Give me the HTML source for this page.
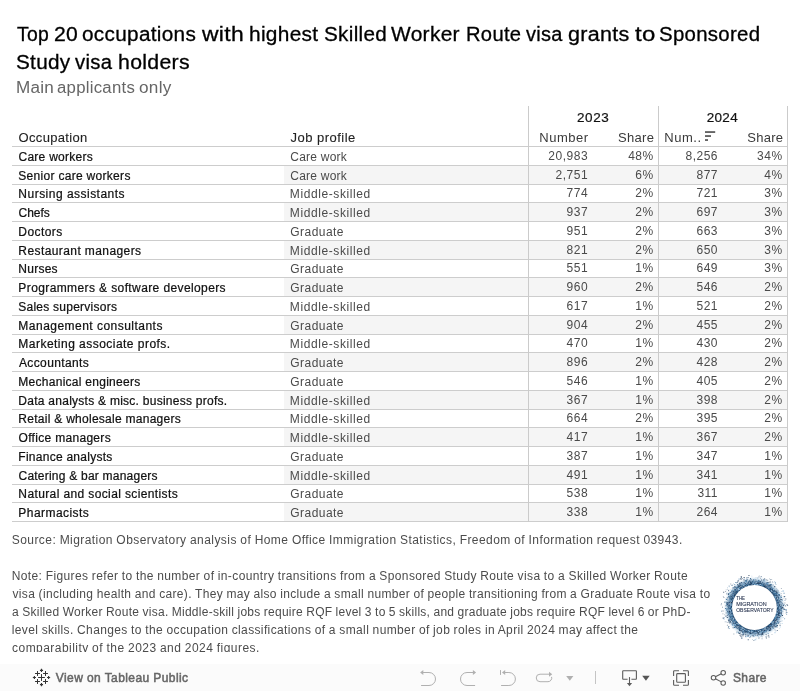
<!DOCTYPE html>
<html lang="en"><head><meta charset="utf-8"><title>Top 20 occupations with highest Skilled Worker Route visa grants to Sponsored Study visa holders</title>
<style>
html,body{margin:0;padding:0;background:#fff;}
body{width:800px;height:691px;position:relative;overflow:hidden;font-family:'Liberation Sans', 'DejaVu Sans', sans-serif;}
.t{position:absolute;white-space:pre;margin:0;padding:0;}
.hl{position:absolute;height:1px;background:#cdcdcd;left:12px;width:776px;}
.vl{position:absolute;width:1px;background:#cbcbcb;top:106px;height:416px;}
.band{position:absolute;left:284px;width:503px;background:#f5f5f5;}
#clip{position:absolute;left:0;top:0;width:800px;height:652px;overflow:hidden;}
#toolbar{position:absolute;left:0;top:664px;width:800px;height:27px;background:#fbfbfb;}
svg{position:absolute;overflow:visible;}

</style></head><body>
<div id="clip">
<div class="band" style="top:166px;height:18px"></div>
<div class="band" style="top:203px;height:18px"></div>
<div class="band" style="top:241px;height:18px"></div>
<div class="band" style="top:278px;height:18px"></div>
<div class="band" style="top:316px;height:18px"></div>
<div class="band" style="top:353px;height:18px"></div>
<div class="band" style="top:391px;height:18px"></div>
<div class="band" style="top:428px;height:18px"></div>
<div class="band" style="top:466px;height:18px"></div>
<div class="band" style="top:503px;height:18px"></div>
<div class="hl" style="top:146px"></div>
<div class="hl" style="top:165px"></div>
<div class="hl" style="top:184px"></div>
<div class="hl" style="top:202px"></div>
<div class="hl" style="top:221px"></div>
<div class="hl" style="top:240px"></div>
<div class="hl" style="top:259px"></div>
<div class="hl" style="top:277px"></div>
<div class="hl" style="top:296px"></div>
<div class="hl" style="top:315px"></div>
<div class="hl" style="top:334px"></div>
<div class="hl" style="top:352px"></div>
<div class="hl" style="top:371px"></div>
<div class="hl" style="top:390px"></div>
<div class="hl" style="top:409px"></div>
<div class="hl" style="top:427px"></div>
<div class="hl" style="top:446px"></div>
<div class="hl" style="top:465px"></div>
<div class="hl" style="top:484px"></div>
<div class="hl" style="top:502px"></div>
<div class="hl" style="top:521px"></div>
<div class="vl" style="left:528px"></div>
<div class="vl" style="left:658px"></div>
<div class="vl" style="left:787px"></div>
<span class="t" id="t1w0" style="left:16.89px;top:20.07px;font-size:20px;line-height:28px;color:#000;letter-spacing:0.300px;-webkit-text-stroke:0.3px #000;transform:scaleX(0.9677);transform-origin:0 0;">Top </span>
<span class="t" id="t1w1" style="left:54.36px;top:20.07px;font-size:20px;line-height:28px;color:#000;letter-spacing:0.300px;-webkit-text-stroke:0.3px #000;transform:scaleX(1.0563);transform-origin:0 0;">20 </span>
<span class="t" id="t1w2" style="left:82.45px;top:20.07px;font-size:20px;line-height:28px;color:#000;letter-spacing:0.300px;-webkit-text-stroke:0.3px #000;transform:scaleX(1.0367);transform-origin:0 0;">occupations </span>
<span class="t" id="t1w3" style="left:201.82px;top:20.07px;font-size:20px;line-height:28px;color:#000;letter-spacing:0.300px;-webkit-text-stroke:0.3px #000;transform:scaleX(1.1444);transform-origin:0 0;">with </span>
<span class="t" id="t1w4" style="left:248.78px;top:20.07px;font-size:20px;line-height:28px;color:#000;letter-spacing:0.300px;-webkit-text-stroke:0.3px #000;transform:scaleX(1.0430);transform-origin:0 0;">highest </span>
<span class="t" id="t1w5" style="left:324.06px;top:20.07px;font-size:20px;line-height:28px;color:#000;letter-spacing:0.300px;-webkit-text-stroke:0.3px #000;transform:scaleX(1.0329);transform-origin:0 0;">Skilled </span>
<span class="t" id="t1w6" style="left:391.49px;top:20.07px;font-size:20px;line-height:28px;color:#000;letter-spacing:0.300px;-webkit-text-stroke:0.3px #000;transform:scaleX(1.0458);transform-origin:0 0;">Worker </span>
<span class="t" id="t1w7" style="left:465.75px;top:20.07px;font-size:20px;line-height:28px;color:#000;letter-spacing:0.300px;-webkit-text-stroke:0.3px #000;transform:scaleX(1.0086);transform-origin:0 0;">Route </span>
<span class="t" id="t1w8" style="left:526.18px;top:20.07px;font-size:20px;line-height:28px;color:#000;letter-spacing:0.300px;-webkit-text-stroke:0.3px #000;transform:scaleX(0.9987);transform-origin:0 0;">visa </span>
<span class="t" id="t1w9" style="left:568.30px;top:20.07px;font-size:20px;line-height:28px;color:#000;letter-spacing:0.300px;-webkit-text-stroke:0.3px #000;transform:scaleX(1.0748);transform-origin:0 0;">grants </span>
<span class="t" id="t1w10" style="left:634.70px;top:20.07px;font-size:20px;line-height:28px;color:#000;letter-spacing:0.300px;-webkit-text-stroke:0.3px #000;transform:scaleX(1.2000);transform-origin:0 0;">to </span>
<span class="t" id="t1w11" style="left:659.07px;top:20.07px;font-size:20px;line-height:28px;color:#000;letter-spacing:0.300px;-webkit-text-stroke:0.3px #000;transform:scaleX(1.0197);transform-origin:0 0;">Sponsored</span>
<span class="t" id="t2w0" style="left:15.80px;top:48.07px;font-size:20px;line-height:28px;color:#000;letter-spacing:0.300px;-webkit-text-stroke:0.3px #000;transform:scaleX(1.0351);transform-origin:0 0;">Study </span>
<span class="t" id="t2w1" style="left:75.10px;top:48.07px;font-size:20px;line-height:28px;color:#000;letter-spacing:0.300px;-webkit-text-stroke:0.3px #000;transform:scaleX(1.0148);transform-origin:0 0;">visa </span>
<span class="t" id="t2w2" style="left:117.64px;top:48.07px;font-size:20px;line-height:28px;color:#000;letter-spacing:0.300px;-webkit-text-stroke:0.3px #000;transform:scaleX(1.0629);transform-origin:0 0;">holders</span>
<span class="t" id="stw0" style="left:15.91px;top:77.46px;font-size:16px;line-height:22px;color:#666;letter-spacing:0.250px;transform:scaleX(1.0674);transform-origin:0 0;">Main </span>
<span class="t" id="stw1" style="left:57.22px;top:77.46px;font-size:16px;line-height:22px;color:#666;letter-spacing:0.250px;transform:scaleX(1.0473);transform-origin:0 0;">applicants </span>
<span class="t" id="stw2" style="left:139.01px;top:77.46px;font-size:16px;line-height:22px;color:#666;letter-spacing:0.250px;transform:scaleX(1.0726);transform-origin:0 0;">only</span>
<span class="t" id="h_occ" style="left:18.56px;top:128.50px;font-size:13px;line-height:18px;color:#222;letter-spacing:0.329px;-webkit-text-stroke:0.1px #222;">Occupation</span>
<span class="t" id="h_job" style="left:290.53px;top:128.50px;font-size:13px;line-height:18px;color:#222;letter-spacing:0.480px;-webkit-text-stroke:0.1px #222;">Job profile</span>
<span class="t" id="h_2023" style="left:577.07px;top:107.82px;font-size:13.5px;line-height:19px;color:#111;letter-spacing:0.530px;-webkit-text-stroke:0.2px #111;">2023</span>
<span class="t" id="h_2024" style="left:706.74px;top:107.82px;font-size:13.5px;line-height:19px;color:#111;letter-spacing:0.303px;-webkit-text-stroke:0.2px #111;">2024</span>
<span class="t" id="h_n23" style="left:539.28px;top:128.50px;font-size:13px;line-height:18px;color:#3a3a3a;letter-spacing:0.512px;">Number</span>
<span class="t" id="h_s23" style="left:618.02px;top:128.50px;font-size:13px;line-height:18px;color:#3a3a3a;letter-spacing:0.322px;">Share</span>
<span class="t" id="h_n24" style="left:664.25px;top:128.50px;font-size:13px;line-height:18px;color:#3a3a3a;letter-spacing:0.522px;">Num..</span>
<span class="t" id="h_s24" style="left:747.33px;top:128.50px;font-size:13px;line-height:18px;color:#3a3a3a;letter-spacing:0.226px;">Share</span>
<span class="t" id="o0" style="left:18.49px;top:149.34px;font-size:12px;line-height:17px;color:#111;letter-spacing:0.261px;-webkit-text-stroke:0.22px #111;">Care workers</span>
<span class="t" id="j0" style="left:290.25px;top:149.34px;font-size:12px;line-height:17px;color:#4a4a4a;letter-spacing:0.234px;">Care work</span>
<span class="t" id="n0_0" style="right:211.94px;top:148.34px;font-size:12px;line-height:17px;color:#4a4a4a;letter-spacing:0.500px;">20,983</span>
<span class="t" id="n0_1" style="right:146.34px;top:148.34px;font-size:12px;line-height:17px;color:#4a4a4a;letter-spacing:0.500px;">48%</span>
<span class="t" id="n0_2" style="right:81.98px;top:148.34px;font-size:12px;line-height:17px;color:#4a4a4a;letter-spacing:0.500px;">8,256</span>
<span class="t" id="n0_3" style="right:17.36px;top:148.34px;font-size:12px;line-height:17px;color:#4a4a4a;letter-spacing:0.500px;">34%</span>
<span class="t" id="o1" style="left:18.28px;top:168.34px;font-size:12px;line-height:17px;color:#111;letter-spacing:0.301px;-webkit-text-stroke:0.22px #111;">Senior care workers</span>
<span class="t" id="j1" style="left:290.25px;top:168.34px;font-size:12px;line-height:17px;color:#4a4a4a;letter-spacing:0.234px;">Care work</span>
<span class="t" id="n1_0" style="right:211.94px;top:167.34px;font-size:12px;line-height:17px;color:#4a4a4a;letter-spacing:0.500px;">2,751</span>
<span class="t" id="n1_1" style="right:146.34px;top:167.34px;font-size:12px;line-height:17px;color:#4a4a4a;letter-spacing:0.500px;">6%</span>
<span class="t" id="n1_2" style="right:81.98px;top:167.34px;font-size:12px;line-height:17px;color:#4a4a4a;letter-spacing:0.500px;">877</span>
<span class="t" id="n1_3" style="right:17.36px;top:167.34px;font-size:12px;line-height:17px;color:#4a4a4a;letter-spacing:0.500px;">4%</span>
<span class="t" id="o2" style="left:18.36px;top:186.34px;font-size:12px;line-height:17px;color:#111;letter-spacing:0.480px;-webkit-text-stroke:0.22px #111;">Nursing assistants</span>
<span class="t" id="j2" style="left:289.83px;top:186.34px;font-size:12px;line-height:17px;color:#4a4a4a;letter-spacing:0.591px;">Middle-skilled</span>
<span class="t" id="n2_0" style="right:211.94px;top:185.34px;font-size:12px;line-height:17px;color:#4a4a4a;letter-spacing:0.500px;">774</span>
<span class="t" id="n2_1" style="right:146.34px;top:185.34px;font-size:12px;line-height:17px;color:#4a4a4a;letter-spacing:0.500px;">2%</span>
<span class="t" id="n2_2" style="right:81.98px;top:185.34px;font-size:12px;line-height:17px;color:#4a4a4a;letter-spacing:0.500px;">721</span>
<span class="t" id="n2_3" style="right:17.36px;top:185.34px;font-size:12px;line-height:17px;color:#4a4a4a;letter-spacing:0.500px;">3%</span>
<span class="t" id="o3" style="left:18.49px;top:205.34px;font-size:12px;line-height:17px;color:#111;-webkit-text-stroke:0.22px #111;">Chefs</span>
<span class="t" id="j3" style="left:289.83px;top:205.34px;font-size:12px;line-height:17px;color:#4a4a4a;letter-spacing:0.591px;">Middle-skilled</span>
<span class="t" id="n3_0" style="right:211.94px;top:204.34px;font-size:12px;line-height:17px;color:#4a4a4a;letter-spacing:0.500px;">937</span>
<span class="t" id="n3_1" style="right:146.34px;top:204.34px;font-size:12px;line-height:17px;color:#4a4a4a;letter-spacing:0.500px;">2%</span>
<span class="t" id="n3_2" style="right:81.98px;top:204.34px;font-size:12px;line-height:17px;color:#4a4a4a;letter-spacing:0.500px;">697</span>
<span class="t" id="n3_3" style="right:17.36px;top:204.34px;font-size:12px;line-height:17px;color:#4a4a4a;letter-spacing:0.500px;">3%</span>
<span class="t" id="o4" style="left:18.36px;top:224.34px;font-size:12px;line-height:17px;color:#111;letter-spacing:0.432px;-webkit-text-stroke:0.22px #111;">Doctors</span>
<span class="t" id="j4" style="left:290.25px;top:224.34px;font-size:12px;line-height:17px;color:#4a4a4a;letter-spacing:0.458px;">Graduate</span>
<span class="t" id="n4_0" style="right:211.94px;top:223.34px;font-size:12px;line-height:17px;color:#4a4a4a;letter-spacing:0.500px;">951</span>
<span class="t" id="n4_1" style="right:146.34px;top:223.34px;font-size:12px;line-height:17px;color:#4a4a4a;letter-spacing:0.500px;">2%</span>
<span class="t" id="n4_2" style="right:81.98px;top:223.34px;font-size:12px;line-height:17px;color:#4a4a4a;letter-spacing:0.500px;">663</span>
<span class="t" id="n4_3" style="right:17.36px;top:223.34px;font-size:12px;line-height:17px;color:#4a4a4a;letter-spacing:0.500px;">3%</span>
<span class="t" id="o5" style="left:18.36px;top:243.34px;font-size:12px;line-height:17px;color:#111;letter-spacing:0.407px;-webkit-text-stroke:0.22px #111;">Restaurant managers</span>
<span class="t" id="j5" style="left:289.83px;top:243.34px;font-size:12px;line-height:17px;color:#4a4a4a;letter-spacing:0.591px;">Middle-skilled</span>
<span class="t" id="n5_0" style="right:211.94px;top:242.34px;font-size:12px;line-height:17px;color:#4a4a4a;letter-spacing:0.500px;">821</span>
<span class="t" id="n5_1" style="right:146.34px;top:242.34px;font-size:12px;line-height:17px;color:#4a4a4a;letter-spacing:0.500px;">2%</span>
<span class="t" id="n5_2" style="right:81.98px;top:242.34px;font-size:12px;line-height:17px;color:#4a4a4a;letter-spacing:0.500px;">650</span>
<span class="t" id="n5_3" style="right:17.36px;top:242.34px;font-size:12px;line-height:17px;color:#4a4a4a;letter-spacing:0.500px;">3%</span>
<span class="t" id="o6" style="left:18.36px;top:261.34px;font-size:12px;line-height:17px;color:#111;letter-spacing:0.245px;-webkit-text-stroke:0.22px #111;">Nurses</span>
<span class="t" id="j6" style="left:290.25px;top:261.34px;font-size:12px;line-height:17px;color:#4a4a4a;letter-spacing:0.458px;">Graduate</span>
<span class="t" id="n6_0" style="right:211.94px;top:260.34px;font-size:12px;line-height:17px;color:#4a4a4a;letter-spacing:0.500px;">551</span>
<span class="t" id="n6_1" style="right:146.34px;top:260.34px;font-size:12px;line-height:17px;color:#4a4a4a;letter-spacing:0.500px;">1%</span>
<span class="t" id="n6_2" style="right:81.98px;top:260.34px;font-size:12px;line-height:17px;color:#4a4a4a;letter-spacing:0.500px;">649</span>
<span class="t" id="n6_3" style="right:17.36px;top:260.34px;font-size:12px;line-height:17px;color:#4a4a4a;letter-spacing:0.500px;">3%</span>
<span class="t" id="o7" style="left:18.36px;top:280.34px;font-size:12px;line-height:17px;color:#111;letter-spacing:0.391px;-webkit-text-stroke:0.22px #111;">Programmers &amp; software developers</span>
<span class="t" id="j7" style="left:290.25px;top:280.34px;font-size:12px;line-height:17px;color:#4a4a4a;letter-spacing:0.458px;">Graduate</span>
<span class="t" id="n7_0" style="right:211.94px;top:279.34px;font-size:12px;line-height:17px;color:#4a4a4a;letter-spacing:0.500px;">960</span>
<span class="t" id="n7_1" style="right:146.34px;top:279.34px;font-size:12px;line-height:17px;color:#4a4a4a;letter-spacing:0.500px;">2%</span>
<span class="t" id="n7_2" style="right:81.98px;top:279.34px;font-size:12px;line-height:17px;color:#4a4a4a;letter-spacing:0.500px;">546</span>
<span class="t" id="n7_3" style="right:17.36px;top:279.34px;font-size:12px;line-height:17px;color:#4a4a4a;letter-spacing:0.500px;">2%</span>
<span class="t" id="o8" style="left:18.28px;top:299.34px;font-size:12px;line-height:17px;color:#111;letter-spacing:0.246px;-webkit-text-stroke:0.22px #111;">Sales supervisors</span>
<span class="t" id="j8" style="left:289.83px;top:299.34px;font-size:12px;line-height:17px;color:#4a4a4a;letter-spacing:0.591px;">Middle-skilled</span>
<span class="t" id="n8_0" style="right:211.94px;top:298.34px;font-size:12px;line-height:17px;color:#4a4a4a;letter-spacing:0.500px;">617</span>
<span class="t" id="n8_1" style="right:146.34px;top:298.34px;font-size:12px;line-height:17px;color:#4a4a4a;letter-spacing:0.500px;">1%</span>
<span class="t" id="n8_2" style="right:81.98px;top:298.34px;font-size:12px;line-height:17px;color:#4a4a4a;letter-spacing:0.500px;">521</span>
<span class="t" id="n8_3" style="right:17.36px;top:298.34px;font-size:12px;line-height:17px;color:#4a4a4a;letter-spacing:0.500px;">2%</span>
<span class="t" id="o9" style="left:18.36px;top:318.34px;font-size:12px;line-height:17px;color:#111;letter-spacing:0.475px;-webkit-text-stroke:0.22px #111;">Management consultants</span>
<span class="t" id="j9" style="left:290.25px;top:318.34px;font-size:12px;line-height:17px;color:#4a4a4a;letter-spacing:0.458px;">Graduate</span>
<span class="t" id="n9_0" style="right:211.94px;top:317.34px;font-size:12px;line-height:17px;color:#4a4a4a;letter-spacing:0.500px;">904</span>
<span class="t" id="n9_1" style="right:146.34px;top:317.34px;font-size:12px;line-height:17px;color:#4a4a4a;letter-spacing:0.500px;">2%</span>
<span class="t" id="n9_2" style="right:81.98px;top:317.34px;font-size:12px;line-height:17px;color:#4a4a4a;letter-spacing:0.500px;">455</span>
<span class="t" id="n9_3" style="right:17.36px;top:317.34px;font-size:12px;line-height:17px;color:#4a4a4a;letter-spacing:0.500px;">2%</span>
<span class="t" id="o10" style="left:18.36px;top:336.34px;font-size:12px;line-height:17px;color:#111;letter-spacing:0.469px;-webkit-text-stroke:0.22px #111;">Marketing associate profs.</span>
<span class="t" id="j10" style="left:289.83px;top:336.34px;font-size:12px;line-height:17px;color:#4a4a4a;letter-spacing:0.591px;">Middle-skilled</span>
<span class="t" id="n10_0" style="right:211.94px;top:335.34px;font-size:12px;line-height:17px;color:#4a4a4a;letter-spacing:0.500px;">470</span>
<span class="t" id="n10_1" style="right:146.34px;top:335.34px;font-size:12px;line-height:17px;color:#4a4a4a;letter-spacing:0.500px;">1%</span>
<span class="t" id="n10_2" style="right:81.98px;top:335.34px;font-size:12px;line-height:17px;color:#4a4a4a;letter-spacing:0.500px;">430</span>
<span class="t" id="n10_3" style="right:17.36px;top:335.34px;font-size:12px;line-height:17px;color:#4a4a4a;letter-spacing:0.500px;">2%</span>
<span class="t" id="o11" style="left:19.00px;top:355.34px;font-size:12px;line-height:17px;color:#111;letter-spacing:0.366px;-webkit-text-stroke:0.22px #111;">Accountants</span>
<span class="t" id="j11" style="left:290.25px;top:355.34px;font-size:12px;line-height:17px;color:#4a4a4a;letter-spacing:0.458px;">Graduate</span>
<span class="t" id="n11_0" style="right:211.94px;top:354.34px;font-size:12px;line-height:17px;color:#4a4a4a;letter-spacing:0.500px;">896</span>
<span class="t" id="n11_1" style="right:146.34px;top:354.34px;font-size:12px;line-height:17px;color:#4a4a4a;letter-spacing:0.500px;">2%</span>
<span class="t" id="n11_2" style="right:81.98px;top:354.34px;font-size:12px;line-height:17px;color:#4a4a4a;letter-spacing:0.500px;">428</span>
<span class="t" id="n11_3" style="right:17.36px;top:354.34px;font-size:12px;line-height:17px;color:#4a4a4a;letter-spacing:0.500px;">2%</span>
<span class="t" id="o12" style="left:18.36px;top:374.34px;font-size:12px;line-height:17px;color:#111;letter-spacing:0.269px;-webkit-text-stroke:0.22px #111;">Mechanical engineers</span>
<span class="t" id="j12" style="left:290.25px;top:374.34px;font-size:12px;line-height:17px;color:#4a4a4a;letter-spacing:0.458px;">Graduate</span>
<span class="t" id="n12_0" style="right:211.94px;top:373.34px;font-size:12px;line-height:17px;color:#4a4a4a;letter-spacing:0.500px;">546</span>
<span class="t" id="n12_1" style="right:146.34px;top:373.34px;font-size:12px;line-height:17px;color:#4a4a4a;letter-spacing:0.500px;">1%</span>
<span class="t" id="n12_2" style="right:81.98px;top:373.34px;font-size:12px;line-height:17px;color:#4a4a4a;letter-spacing:0.500px;">405</span>
<span class="t" id="n12_3" style="right:17.36px;top:373.34px;font-size:12px;line-height:17px;color:#4a4a4a;letter-spacing:0.500px;">2%</span>
<span class="t" id="o13" style="left:18.36px;top:393.34px;font-size:12px;line-height:17px;color:#111;letter-spacing:0.260px;-webkit-text-stroke:0.22px #111;">Data analysts &amp; misc. business profs.</span>
<span class="t" id="j13" style="left:289.83px;top:393.34px;font-size:12px;line-height:17px;color:#4a4a4a;letter-spacing:0.591px;">Middle-skilled</span>
<span class="t" id="n13_0" style="right:211.94px;top:392.34px;font-size:12px;line-height:17px;color:#4a4a4a;letter-spacing:0.500px;">367</span>
<span class="t" id="n13_1" style="right:146.34px;top:392.34px;font-size:12px;line-height:17px;color:#4a4a4a;letter-spacing:0.500px;">1%</span>
<span class="t" id="n13_2" style="right:81.98px;top:392.34px;font-size:12px;line-height:17px;color:#4a4a4a;letter-spacing:0.500px;">398</span>
<span class="t" id="n13_3" style="right:17.36px;top:392.34px;font-size:12px;line-height:17px;color:#4a4a4a;letter-spacing:0.500px;">2%</span>
<span class="t" id="o14" style="left:18.36px;top:411.34px;font-size:12px;line-height:17px;color:#111;letter-spacing:0.269px;-webkit-text-stroke:0.22px #111;">Retail &amp; wholesale managers</span>
<span class="t" id="j14" style="left:289.83px;top:411.34px;font-size:12px;line-height:17px;color:#4a4a4a;letter-spacing:0.591px;">Middle-skilled</span>
<span class="t" id="n14_0" style="right:211.94px;top:410.34px;font-size:12px;line-height:17px;color:#4a4a4a;letter-spacing:0.500px;">664</span>
<span class="t" id="n14_1" style="right:146.34px;top:410.34px;font-size:12px;line-height:17px;color:#4a4a4a;letter-spacing:0.500px;">2%</span>
<span class="t" id="n14_2" style="right:81.98px;top:410.34px;font-size:12px;line-height:17px;color:#4a4a4a;letter-spacing:0.500px;">395</span>
<span class="t" id="n14_3" style="right:17.36px;top:410.34px;font-size:12px;line-height:17px;color:#4a4a4a;letter-spacing:0.500px;">2%</span>
<span class="t" id="o15" style="left:18.57px;top:430.34px;font-size:12px;line-height:17px;color:#111;letter-spacing:0.304px;-webkit-text-stroke:0.22px #111;">Office managers</span>
<span class="t" id="j15" style="left:289.83px;top:430.34px;font-size:12px;line-height:17px;color:#4a4a4a;letter-spacing:0.591px;">Middle-skilled</span>
<span class="t" id="n15_0" style="right:211.94px;top:429.34px;font-size:12px;line-height:17px;color:#4a4a4a;letter-spacing:0.500px;">417</span>
<span class="t" id="n15_1" style="right:146.34px;top:429.34px;font-size:12px;line-height:17px;color:#4a4a4a;letter-spacing:0.500px;">1%</span>
<span class="t" id="n15_2" style="right:81.98px;top:429.34px;font-size:12px;line-height:17px;color:#4a4a4a;letter-spacing:0.500px;">367</span>
<span class="t" id="n15_3" style="right:17.36px;top:429.34px;font-size:12px;line-height:17px;color:#4a4a4a;letter-spacing:0.500px;">2%</span>
<span class="t" id="o16" style="left:18.36px;top:449.34px;font-size:12px;line-height:17px;color:#111;letter-spacing:0.256px;-webkit-text-stroke:0.22px #111;">Finance analysts</span>
<span class="t" id="j16" style="left:290.25px;top:449.34px;font-size:12px;line-height:17px;color:#4a4a4a;letter-spacing:0.458px;">Graduate</span>
<span class="t" id="n16_0" style="right:211.94px;top:448.34px;font-size:12px;line-height:17px;color:#4a4a4a;letter-spacing:0.500px;">387</span>
<span class="t" id="n16_1" style="right:146.34px;top:448.34px;font-size:12px;line-height:17px;color:#4a4a4a;letter-spacing:0.500px;">1%</span>
<span class="t" id="n16_2" style="right:81.98px;top:448.34px;font-size:12px;line-height:17px;color:#4a4a4a;letter-spacing:0.500px;">347</span>
<span class="t" id="n16_3" style="right:17.36px;top:448.34px;font-size:12px;line-height:17px;color:#4a4a4a;letter-spacing:0.500px;">1%</span>
<span class="t" id="o17" style="left:18.49px;top:468.34px;font-size:12px;line-height:17px;color:#111;letter-spacing:0.226px;-webkit-text-stroke:0.22px #111;">Catering &amp; bar managers</span>
<span class="t" id="j17" style="left:289.83px;top:468.34px;font-size:12px;line-height:17px;color:#4a4a4a;letter-spacing:0.591px;">Middle-skilled</span>
<span class="t" id="n17_0" style="right:211.94px;top:467.34px;font-size:12px;line-height:17px;color:#4a4a4a;letter-spacing:0.500px;">491</span>
<span class="t" id="n17_1" style="right:146.34px;top:467.34px;font-size:12px;line-height:17px;color:#4a4a4a;letter-spacing:0.500px;">1%</span>
<span class="t" id="n17_2" style="right:81.98px;top:467.34px;font-size:12px;line-height:17px;color:#4a4a4a;letter-spacing:0.500px;">341</span>
<span class="t" id="n17_3" style="right:17.36px;top:467.34px;font-size:12px;line-height:17px;color:#4a4a4a;letter-spacing:0.500px;">1%</span>
<span class="t" id="o18" style="left:18.36px;top:486.34px;font-size:12px;line-height:17px;color:#111;letter-spacing:0.379px;-webkit-text-stroke:0.22px #111;">Natural and social scientists</span>
<span class="t" id="j18" style="left:290.25px;top:486.34px;font-size:12px;line-height:17px;color:#4a4a4a;letter-spacing:0.458px;">Graduate</span>
<span class="t" id="n18_0" style="right:211.94px;top:485.34px;font-size:12px;line-height:17px;color:#4a4a4a;letter-spacing:0.500px;">538</span>
<span class="t" id="n18_1" style="right:146.34px;top:485.34px;font-size:12px;line-height:17px;color:#4a4a4a;letter-spacing:0.500px;">1%</span>
<span class="t" id="n18_2" style="right:81.98px;top:485.34px;font-size:12px;line-height:17px;color:#4a4a4a;letter-spacing:0.500px;">311</span>
<span class="t" id="n18_3" style="right:17.36px;top:485.34px;font-size:12px;line-height:17px;color:#4a4a4a;letter-spacing:0.500px;">1%</span>
<span class="t" id="o19" style="left:18.36px;top:505.34px;font-size:12px;line-height:17px;color:#111;letter-spacing:0.444px;-webkit-text-stroke:0.22px #111;">Pharmacists</span>
<span class="t" id="j19" style="left:290.25px;top:505.34px;font-size:12px;line-height:17px;color:#4a4a4a;letter-spacing:0.458px;">Graduate</span>
<span class="t" id="n19_0" style="right:211.94px;top:504.34px;font-size:12px;line-height:17px;color:#4a4a4a;letter-spacing:0.500px;">338</span>
<span class="t" id="n19_1" style="right:146.34px;top:504.34px;font-size:12px;line-height:17px;color:#4a4a4a;letter-spacing:0.500px;">1%</span>
<span class="t" id="n19_2" style="right:81.98px;top:504.34px;font-size:12px;line-height:17px;color:#4a4a4a;letter-spacing:0.500px;">264</span>
<span class="t" id="n19_3" style="right:17.36px;top:504.34px;font-size:12px;line-height:17px;color:#4a4a4a;letter-spacing:0.500px;">1%</span>
<span class="t" id="f0" style="left:11.76px;top:532.34px;font-size:12px;line-height:17px;color:#4c4c4c;letter-spacing:0.436px;word-spacing:-0.3px;">Source: Migration Observatory analysis of Home Office Immigration Statistics, Freedom of Information request 03943.</span>
<span class="t" id="f2" style="left:11.72px;top:568.34px;font-size:12px;line-height:17px;color:#4c4c4c;letter-spacing:0.380px;word-spacing:-0.3px;">Note: Figures refer to the number of in-country transitions from a Sponsored Study Route visa to a Skilled Worker Route</span>
<span class="t" id="f3" style="left:12.50px;top:586.34px;font-size:12px;line-height:17px;color:#4c4c4c;letter-spacing:0.337px;word-spacing:-0.3px;">visa (including health and care). They may also include a small number of people transitioning from a Graduate Route visa to</span>
<span class="t" id="f4" style="left:12.04px;top:604.34px;font-size:12px;line-height:17px;color:#4c4c4c;letter-spacing:0.255px;word-spacing:-0.3px;">a Skilled Worker Route visa. Middle-skill jobs require RQF level 3 to 5 skills, and graduate jobs require RQF level 6 or PhD-</span>
<span class="t" id="f5" style="left:11.77px;top:622.34px;font-size:12px;line-height:17px;color:#4c4c4c;letter-spacing:0.373px;word-spacing:-0.3px;">level skills. Changes to the occupation classifications of a small number of job roles in April 2024 may affect the</span>
<span class="t" id="f6" style="left:12.09px;top:640.34px;font-size:12px;line-height:17px;color:#4c4c4c;letter-spacing:0.450px;word-spacing:-0.3px;">comparability of the 2023 and 2024 figures.</span>
<svg id="sorticon" style="left:705px;top:131px" width="11" height="10" viewBox="0 0 11 10"><rect x="0" y="0.2" width="10.2" height="1.7" fill="#555"/><rect x="0" y="4.2" width="6" height="1.7" fill="#555"/><rect x="0" y="8.2" width="3" height="1.7" fill="#555"/></svg>
<svg id="logo" style="left:718px;top:571px" width="74" height="74" viewBox="718 571 74 74">
<defs><radialGradient id="rg" cx="754.45" cy="607.5" r="30.8" gradientUnits="userSpaceOnUse">
<stop offset="0.70" stop-color="#1b3a5c" stop-opacity="0.9"/>
<stop offset="0.80" stop-color="#27527a" stop-opacity="0.8"/>
<stop offset="0.88" stop-color="#3f76a3" stop-opacity="0.5"/>
<stop offset="0.94" stop-color="#6ea3cc" stop-opacity="0.2"/>
<stop offset="1" stop-color="#7fb0d6" stop-opacity="0"/></radialGradient></defs>
<circle cx="754.45" cy="607.5" r="30.8" fill="url(#rg)"/>
<g><path fill="#17304d" fill-opacity="0.45" d="M722.0 606.8h0.9v0.9h-0.9z"/><path fill="#17304d" fill-opacity="0.6" d="M733.1 622.5h1.0v1.0h-1.0zM728.5 626.1h0.8v0.8h-0.8zM775.0 620.5h0.8v0.8h-0.8zM750.9 583.3h1.0v1.0h-1.0zM771.5 591.9h1.0v1.0h-1.0zM737.7 590.2h1.0v1.0h-1.0zM753.3 635.8h0.8v0.8h-0.8zM779.5 608.6h1.1v1.1h-1.1zM733.8 593.0h0.7v0.7h-0.7zM764.8 628.7h0.9v0.9h-0.9zM733.4 621.2h0.8v0.8h-0.8zM745.4 586.2h1.0v1.0h-1.0zM735.1 619.8h0.8v0.8h-0.8zM724.4 614.5h0.7v0.7h-0.7zM745.0 629.7h1.0v1.0h-1.0zM757.7 631.9h0.9v0.9h-0.9zM773.7 590.4h0.9v0.9h-0.9zM772.2 589.5h1.1v1.1h-1.1zM741.5 578.0h1.1v1.1h-1.1zM768.5 587.9h0.8v0.8h-0.8zM753.7 583.9h1.0v1.0h-1.0zM768.2 582.0h0.9v0.9h-0.9zM769.5 581.6h0.9v0.9h-0.9zM780.4 601.2h0.7v0.7h-0.7zM730.5 595.5h1.0v1.0h-1.0zM732.2 590.7h0.8v0.8h-0.8zM728.4 611.7h0.9v0.9h-0.9zM775.9 587.9h0.7v0.7h-0.7zM739.7 582.9h0.9v0.9h-0.9zM733.8 592.9h0.7v0.7h-0.7zM737.0 624.9h0.9v0.9h-0.9zM724.5 602.1h0.7v0.7h-0.7zM779.5 600.8h1.0v1.0h-1.0zM776.5 611.8h0.8v0.8h-0.8zM740.4 625.5h0.7v0.7h-0.7zM761.4 585.5h1.0v1.0h-1.0zM746.7 631.0h1.0v1.0h-1.0z"/><path fill="#17304d" fill-opacity="0.75" d="M777.9 610.3h0.8v0.8h-0.8zM774.1 591.8h1.1v1.1h-1.1zM752.4 584.0h0.9v0.9h-0.9zM761.7 630.8h1.1v1.1h-1.1zM769.7 582.4h0.7v0.7h-0.7zM738.3 587.7h0.7v0.7h-0.7zM751.1 633.2h0.9v0.9h-0.9zM752.6 583.9h0.8v0.8h-0.8zM767.0 626.6h0.8v0.8h-0.8zM734.5 595.1h0.8v0.8h-0.8zM725.4 605.5h0.8v0.8h-0.8zM740.8 629.6h1.1v1.1h-1.1zM767.6 585.6h1.1v1.1h-1.1zM776.8 602.3h1.0v1.0h-1.0zM741.6 634.1h1.0v1.0h-1.0zM776.3 599.1h0.9v0.9h-0.9zM763.9 632.2h0.7v0.7h-0.7zM731.0 602.6h1.1v1.1h-1.1zM775.8 597.4h1.0v1.0h-1.0zM757.6 633.0h1.1v1.1h-1.1zM760.9 633.6h1.1v1.1h-1.1zM756.8 583.0h1.0v1.0h-1.0zM734.7 586.8h0.8v0.8h-0.8zM774.4 591.2h0.9v0.9h-0.9zM765.9 637.6h0.9v0.9h-0.9zM739.0 589.7h0.9v0.9h-0.9zM776.1 623.0h1.0v1.0h-1.0zM771.9 625.0h1.0v1.0h-1.0zM772.9 621.6h1.1v1.1h-1.1zM777.1 612.9h0.9v0.9h-0.9zM753.1 579.5h0.8v0.8h-0.8zM748.6 630.5h1.1v1.1h-1.1zM783.7 608.8h1.1v1.1h-1.1zM739.5 624.4h0.7v0.7h-0.7zM730.7 617.9h0.7v0.7h-0.7zM748.6 629.2h0.8v0.8h-0.8zM743.6 627.5h0.8v0.8h-0.8zM731.2 600.5h1.0v1.0h-1.0zM776.4 590.6h0.9v0.9h-0.9z"/><path fill="#17304d" fill-opacity="0.9" d="M776.5 617.0h1.1v1.1h-1.1zM767.3 627.7h1.0v1.0h-1.0zM777.5 615.0h0.9v0.9h-0.9zM757.5 632.0h0.9v0.9h-0.9zM776.6 612.6h0.9v0.9h-0.9zM740.8 588.1h0.9v0.9h-0.9zM748.5 585.0h1.1v1.1h-1.1zM769.9 624.6h0.9v0.9h-0.9zM779.2 604.5h0.9v0.9h-0.9zM777.7 605.5h0.8v0.8h-0.8zM739.0 583.4h1.1v1.1h-1.1zM741.5 630.8h1.0v1.0h-1.0zM776.5 602.3h0.7v0.7h-0.7zM733.9 593.9h0.8v0.8h-0.8zM749.2 584.3h1.0v1.0h-1.0zM775.8 599.5h1.1v1.1h-1.1zM750.5 632.1h1.1v1.1h-1.1zM743.4 587.2h0.7v0.7h-0.7zM766.1 628.3h1.0v1.0h-1.0zM766.8 626.5h0.9v0.9h-0.9zM777.9 603.8h1.0v1.0h-1.0zM731.1 609.9h1.0v1.0h-1.0zM731.4 602.5h0.9v0.9h-0.9zM748.7 630.9h0.9v0.9h-0.9zM728.5 621.5h0.8v0.8h-0.8zM744.9 585.7h0.8v0.8h-0.8zM730.2 621.5h0.9v0.9h-0.9zM770.1 588.5h0.7v0.7h-0.7zM777.0 618.8h1.1v1.1h-1.1zM777.3 599.7h0.7v0.7h-0.7zM763.4 629.5h1.0v1.0h-1.0zM732.6 587.6h0.9v0.9h-0.9zM747.4 583.3h0.9v0.9h-0.9zM739.6 582.6h0.8v0.8h-0.8zM772.3 588.8h1.1v1.1h-1.1zM731.0 605.4h1.0v1.0h-1.0zM731.6 599.0h0.9v0.9h-0.9zM766.5 587.1h1.0v1.0h-1.0zM773.4 620.0h0.7v0.7h-0.7z"/><path fill="#17304d" fill-opacity="1.0" d="M776.5 593.6h0.7v0.7h-0.7zM752.5 635.3h1.0v1.0h-1.0zM772.2 621.6h0.9v0.9h-0.9zM742.5 586.7h0.9v0.9h-0.9zM782.3 607.3h1.1v1.1h-1.1zM729.6 612.9h0.8v0.8h-0.8zM742.4 587.4h0.9v0.9h-0.9zM732.0 597.1h1.1v1.1h-1.1zM770.4 628.8h0.7v0.7h-0.7zM735.9 625.4h0.8v0.8h-0.8zM731.4 611.9h0.8v0.8h-0.8zM769.8 590.7h1.1v1.1h-1.1zM745.5 585.4h0.9v0.9h-0.9zM762.0 630.5h0.7v0.7h-0.7zM760.3 584.8h0.9v0.9h-0.9zM744.3 586.0h0.9v0.9h-0.9zM766.6 628.5h0.7v0.7h-0.7zM768.7 584.4h0.9v0.9h-0.9zM764.6 628.9h0.9v0.9h-0.9zM770.3 623.0h0.9v0.9h-0.9zM733.1 594.0h1.1v1.1h-1.1zM756.8 583.1h0.9v0.9h-0.9zM734.7 586.3h0.7v0.7h-0.7zM734.2 595.3h0.9v0.9h-0.9zM775.1 619.5h0.7v0.7h-0.7zM738.4 623.8h0.9v0.9h-0.9zM730.2 610.3h0.7v0.7h-0.7zM745.4 580.1h0.7v0.7h-0.7zM740.4 586.5h0.7v0.7h-0.7zM736.8 627.9h0.8v0.8h-0.8zM777.7 613.6h1.0v1.0h-1.0zM762.2 630.1h0.9v0.9h-0.9zM755.8 630.6h1.0v1.0h-1.0zM773.4 628.0h0.7v0.7h-0.7zM769.2 629.9h1.1v1.1h-1.1zM735.0 626.5h1.0v1.0h-1.0zM766.3 584.5h0.7v0.7h-0.7zM766.3 627.4h0.8v0.8h-0.8zM740.6 625.6h1.0v1.0h-1.0zM755.5 579.7h0.9v0.9h-0.9zM763.9 586.1h1.1v1.1h-1.1zM731.6 603.3h0.7v0.7h-0.7zM726.0 602.4h0.9v0.9h-0.9zM774.3 590.7h0.9v0.9h-0.9zM736.7 590.9h0.9v0.9h-0.9zM728.3 602.1h1.1v1.1h-1.1z"/><path fill="#1a3352" fill-opacity="0.45" d="M767.6 635.5h1.0v1.0h-1.0zM784.7 598.6h0.7v0.7h-0.7zM780.8 593.3h0.8v0.8h-0.8zM730.3 583.6h0.9v0.9h-0.9zM726.9 624.7h1.0v1.0h-1.0z"/><path fill="#1a3352" fill-opacity="0.6" d="M737.7 624.1h0.7v0.7h-0.7zM728.3 594.1h0.9v0.9h-0.9zM758.1 629.4h1.1v1.1h-1.1zM731.4 602.5h0.8v0.8h-0.8zM727.9 627.6h0.8v0.8h-0.8zM773.5 594.8h0.9v0.9h-0.9zM742.7 630.7h0.8v0.8h-0.8zM735.2 592.1h0.9v0.9h-0.9zM770.1 626.0h0.8v0.8h-0.8zM763.4 629.1h0.9v0.9h-0.9zM739.8 624.8h1.0v1.0h-1.0zM725.2 590.9h0.9v0.9h-0.9zM749.0 584.1h0.7v0.7h-0.7zM768.2 634.7h1.0v1.0h-1.0zM773.0 624.5h0.7v0.7h-0.7zM722.5 610.4h1.0v1.0h-1.0zM741.2 578.9h0.8v0.8h-0.8zM785.7 612.7h0.8v0.8h-0.8zM770.5 584.5h1.1v1.1h-1.1zM768.1 587.1h1.1v1.1h-1.1zM740.5 628.0h0.8v0.8h-0.8zM762.7 629.5h0.8v0.8h-0.8zM758.3 584.2h0.9v0.9h-0.9zM763.9 578.2h0.8v0.8h-0.8zM739.4 624.3h0.7v0.7h-0.7zM775.2 590.7h0.8v0.8h-0.8zM735.6 592.8h0.8v0.8h-0.8zM744.6 585.4h0.8v0.8h-0.8zM774.1 626.2h1.1v1.1h-1.1zM763.7 584.0h0.7v0.7h-0.7zM737.2 624.6h0.7v0.7h-0.7zM732.6 627.2h1.1v1.1h-1.1zM748.8 631.9h1.0v1.0h-1.0zM774.3 625.0h0.9v0.9h-0.9zM749.1 581.4h0.9v0.9h-0.9zM779.0 604.9h0.7v0.7h-0.7zM769.8 589.8h0.9v0.9h-0.9zM770.5 586.3h0.9v0.9h-0.9zM749.6 631.0h1.0v1.0h-1.0zM737.4 625.8h1.0v1.0h-1.0zM735.7 622.6h0.8v0.8h-0.8zM774.7 620.6h1.0v1.0h-1.0zM777.0 595.1h0.7v0.7h-0.7zM747.1 632.0h0.7v0.7h-0.7zM746.5 629.6h1.0v1.0h-1.0zM740.8 576.3h1.1v1.1h-1.1zM735.1 587.0h0.8v0.8h-0.8zM772.7 620.5h0.7v0.7h-0.7z"/><path fill="#1a3352" fill-opacity="0.75" d="M740.3 634.5h0.9v0.9h-0.9zM738.0 589.1h0.7v0.7h-0.7zM749.1 580.8h0.9v0.9h-0.9zM727.0 610.8h0.7v0.7h-0.7zM775.1 618.2h0.9v0.9h-0.9zM723.5 596.9h0.8v0.8h-0.8zM734.6 591.0h0.7v0.7h-0.7zM733.1 597.2h0.7v0.7h-0.7zM774.8 616.3h1.1v1.1h-1.1zM752.2 630.0h1.1v1.1h-1.1zM731.4 602.7h0.8v0.8h-0.8zM730.8 599.2h0.8v0.8h-0.8zM771.2 626.1h0.8v0.8h-0.8zM750.6 629.8h1.1v1.1h-1.1zM734.5 622.7h0.7v0.7h-0.7zM730.6 607.0h1.1v1.1h-1.1zM775.3 615.9h1.0v1.0h-1.0zM732.2 589.8h0.7v0.7h-0.7zM730.9 604.1h1.0v1.0h-1.0zM747.8 634.7h0.9v0.9h-0.9zM750.3 584.3h1.0v1.0h-1.0zM757.2 634.9h0.8v0.8h-0.8zM773.5 593.6h1.0v1.0h-1.0zM743.6 585.7h0.9v0.9h-0.9zM760.3 577.7h0.7v0.7h-0.7zM742.7 585.9h0.9v0.9h-0.9zM736.5 587.0h1.0v1.0h-1.0zM740.4 585.3h1.0v1.0h-1.0zM744.0 584.3h0.9v0.9h-0.9zM741.9 586.5h1.0v1.0h-1.0zM776.4 610.3h0.8v0.8h-0.8zM776.5 600.2h1.1v1.1h-1.1zM723.2 591.8h1.0v1.0h-1.0zM732.4 614.6h0.8v0.8h-0.8zM764.8 585.1h0.9v0.9h-0.9zM746.4 630.2h0.9v0.9h-0.9zM776.9 604.3h1.0v1.0h-1.0zM743.6 581.7h1.1v1.1h-1.1zM778.4 613.5h1.0v1.0h-1.0zM733.6 595.2h0.7v0.7h-0.7zM738.7 632.9h1.1v1.1h-1.1zM754.0 630.8h0.7v0.7h-0.7zM778.1 612.7h0.7v0.7h-0.7zM776.6 600.5h0.7v0.7h-0.7zM777.6 606.2h0.7v0.7h-0.7zM755.6 632.6h0.7v0.7h-0.7zM774.0 592.9h0.9v0.9h-0.9zM771.6 625.2h1.0v1.0h-1.0zM735.0 620.8h1.0v1.0h-1.0zM767.0 587.9h1.1v1.1h-1.1zM763.0 584.6h1.1v1.1h-1.1zM748.4 575.0h1.1v1.1h-1.1zM748.4 582.3h0.7v0.7h-0.7zM778.5 616.8h0.8v0.8h-0.8zM776.9 603.8h1.0v1.0h-1.0zM744.8 627.8h0.8v0.8h-0.8z"/><path fill="#1a3352" fill-opacity="0.9" d="M769.9 627.7h1.1v1.1h-1.1zM775.1 617.0h0.9v0.9h-0.9zM750.7 579.3h0.8v0.8h-0.8zM739.6 630.1h1.1v1.1h-1.1zM758.7 582.4h0.9v0.9h-0.9zM737.3 624.3h1.0v1.0h-1.0zM780.7 609.6h0.7v0.7h-0.7zM738.7 628.6h1.0v1.0h-1.0zM731.8 602.6h0.9v0.9h-0.9zM734.0 623.3h0.7v0.7h-0.7zM758.4 582.1h0.9v0.9h-0.9zM757.9 583.6h1.0v1.0h-1.0zM757.5 582.7h0.7v0.7h-0.7zM776.5 618.2h0.9v0.9h-0.9zM730.4 619.2h1.1v1.1h-1.1zM762.4 633.5h0.8v0.8h-0.8zM768.8 623.9h1.1v1.1h-1.1zM771.7 626.2h1.0v1.0h-1.0zM729.5 611.8h0.9v0.9h-0.9zM769.7 625.1h0.7v0.7h-0.7zM777.5 605.7h0.9v0.9h-0.9zM762.1 632.3h1.1v1.1h-1.1zM758.7 632.3h0.9v0.9h-0.9zM761.0 585.3h1.1v1.1h-1.1zM730.7 613.0h0.7v0.7h-0.7zM773.0 593.4h0.9v0.9h-0.9zM769.4 627.2h1.0v1.0h-1.0zM730.7 609.6h1.1v1.1h-1.1zM729.3 602.3h0.8v0.8h-0.8zM729.2 612.9h0.7v0.7h-0.7zM762.6 629.4h0.9v0.9h-0.9zM761.0 629.7h1.0v1.0h-1.0zM769.4 585.0h1.0v1.0h-1.0zM778.2 600.3h1.1v1.1h-1.1zM761.5 629.1h1.0v1.0h-1.0zM759.3 581.5h0.9v0.9h-0.9zM757.3 581.6h1.1v1.1h-1.1zM776.8 606.4h1.0v1.0h-1.0zM762.4 583.9h0.7v0.7h-0.7zM731.9 618.5h1.0v1.0h-1.0z"/><path fill="#1a3352" fill-opacity="1.0" d="M765.3 585.8h0.7v0.7h-0.7zM734.7 589.1h1.0v1.0h-1.0zM780.6 605.9h0.8v0.8h-0.8zM780.5 599.1h1.0v1.0h-1.0zM751.9 630.1h0.7v0.7h-0.7zM776.1 592.0h0.8v0.8h-0.8zM729.8 601.8h0.9v0.9h-0.9zM737.8 586.2h0.9v0.9h-0.9zM731.9 601.4h1.0v1.0h-1.0zM768.0 625.0h0.9v0.9h-0.9zM736.6 623.1h1.0v1.0h-1.0zM776.3 594.7h1.1v1.1h-1.1zM757.4 630.9h0.9v0.9h-0.9zM780.5 607.9h0.9v0.9h-0.9zM777.5 614.6h0.7v0.7h-0.7zM749.5 580.0h0.8v0.8h-0.8zM777.1 601.6h0.8v0.8h-0.8zM733.2 590.7h1.0v1.0h-1.0zM726.9 597.4h0.8v0.8h-0.8zM733.3 615.9h0.9v0.9h-0.9zM751.4 583.2h0.8v0.8h-0.8zM767.6 587.1h0.8v0.8h-0.8zM731.2 608.3h0.7v0.7h-0.7zM775.8 619.3h0.9v0.9h-0.9zM734.5 595.1h0.8v0.8h-0.8zM762.5 629.0h0.9v0.9h-0.9zM729.7 606.5h0.7v0.7h-0.7zM776.1 595.0h1.0v1.0h-1.0zM769.4 624.8h1.0v1.0h-1.0zM765.7 587.8h0.7v0.7h-0.7zM774.2 617.5h0.8v0.8h-0.8zM777.8 602.0h0.8v0.8h-0.8zM765.1 587.1h0.8v0.8h-0.8zM764.2 629.8h1.1v1.1h-1.1zM738.5 589.3h0.9v0.9h-0.9zM776.4 619.9h0.7v0.7h-0.7zM778.5 616.9h1.1v1.1h-1.1zM779.7 612.1h0.7v0.7h-0.7zM745.3 582.7h0.8v0.8h-0.8zM739.0 623.9h1.0v1.0h-1.0zM780.9 612.4h1.1v1.1h-1.1zM762.0 631.0h0.8v0.8h-0.8zM772.9 625.1h0.7v0.7h-0.7zM731.5 601.0h0.8v0.8h-0.8zM778.3 614.2h0.9v0.9h-0.9z"/><path fill="#1d3b5c" fill-opacity="0.45" d="M771.2 578.9h0.9v0.9h-0.9zM771.6 634.2h0.8v0.8h-0.8zM724.4 601.2h1.1v1.1h-1.1zM721.0 603.2h1.0v1.0h-1.0zM743.2 577.4h0.7v0.7h-0.7zM736.6 630.9h0.9v0.9h-0.9zM761.6 638.3h0.9v0.9h-0.9zM741.3 577.0h0.7v0.7h-0.7zM738.0 632.6h1.0v1.0h-1.0zM767.1 579.7h1.1v1.1h-1.1zM725.8 589.5h0.7v0.7h-0.7zM753.3 640.0h1.1v1.1h-1.1zM736.3 582.5h0.8v0.8h-0.8zM746.3 577.4h1.1v1.1h-1.1zM733.4 633.5h0.9v0.9h-0.9zM765.7 579.3h1.1v1.1h-1.1z"/><path fill="#1d3b5c" fill-opacity="0.6" d="M763.3 631.0h1.1v1.1h-1.1zM757.7 584.8h0.8v0.8h-0.8zM778.5 605.5h0.8v0.8h-0.8zM736.0 591.2h0.9v0.9h-0.9zM754.3 631.0h0.7v0.7h-0.7zM733.3 623.1h0.7v0.7h-0.7zM730.4 605.3h0.7v0.7h-0.7zM737.0 587.0h0.9v0.9h-0.9zM733.2 591.6h0.7v0.7h-0.7zM731.5 616.6h0.9v0.9h-0.9zM763.9 584.6h0.7v0.7h-0.7zM761.7 629.1h1.0v1.0h-1.0zM769.6 584.9h0.8v0.8h-0.8zM777.5 607.1h0.7v0.7h-0.7zM737.9 590.2h0.9v0.9h-0.9zM759.7 582.3h1.0v1.0h-1.0zM752.4 630.4h1.0v1.0h-1.0zM746.6 634.4h1.0v1.0h-1.0zM765.1 626.6h1.1v1.1h-1.1zM740.0 626.5h1.0v1.0h-1.0zM776.9 630.1h1.0v1.0h-1.0zM772.9 623.1h0.9v0.9h-0.9zM742.9 578.9h0.7v0.7h-0.7zM736.9 625.7h0.8v0.8h-0.8zM778.4 603.8h0.9v0.9h-0.9zM746.6 632.3h0.8v0.8h-0.8zM766.6 586.1h0.9v0.9h-0.9zM735.2 624.7h1.0v1.0h-1.0zM738.1 625.1h0.8v0.8h-0.8zM758.0 580.1h0.9v0.9h-0.9zM772.1 621.2h0.7v0.7h-0.7zM752.3 629.8h0.7v0.7h-0.7zM772.4 621.5h1.0v1.0h-1.0zM741.9 587.6h0.8v0.8h-0.8zM765.4 628.9h0.8v0.8h-0.8zM747.7 629.8h0.8v0.8h-0.8zM764.5 627.0h1.0v1.0h-1.0zM777.2 592.4h0.9v0.9h-0.9zM746.0 630.3h0.8v0.8h-0.8zM751.6 582.2h0.8v0.8h-0.8zM738.2 590.3h0.9v0.9h-0.9zM771.7 593.1h0.7v0.7h-0.7zM773.4 594.1h1.0v1.0h-1.0zM785.4 598.6h0.9v0.9h-0.9zM731.0 605.1h0.7v0.7h-0.7zM741.5 627.7h0.8v0.8h-0.8zM762.1 582.0h0.9v0.9h-0.9zM733.3 594.5h1.1v1.1h-1.1zM778.0 606.3h1.0v1.0h-1.0zM786.4 604.3h1.0v1.0h-1.0zM780.7 595.5h1.0v1.0h-1.0zM730.8 594.3h0.8v0.8h-0.8zM725.8 615.6h0.7v0.7h-0.7zM738.1 588.1h0.9v0.9h-0.9zM740.7 576.6h1.0v1.0h-1.0zM765.9 627.3h0.8v0.8h-0.8zM732.2 597.2h1.0v1.0h-1.0zM759.1 630.9h1.1v1.1h-1.1zM753.2 631.8h0.8v0.8h-0.8zM762.4 634.2h1.1v1.1h-1.1zM729.5 623.2h0.7v0.7h-0.7zM739.4 624.5h1.1v1.1h-1.1zM729.7 602.4h0.8v0.8h-0.8zM745.7 627.9h1.1v1.1h-1.1zM777.4 608.4h0.7v0.7h-0.7zM764.1 631.9h1.1v1.1h-1.1zM762.8 584.7h1.1v1.1h-1.1zM763.7 629.5h0.8v0.8h-0.8zM787.1 605.1h1.0v1.0h-1.0zM773.6 591.7h0.9v0.9h-0.9zM738.7 584.6h0.8v0.8h-0.8zM775.1 616.7h0.9v0.9h-0.9zM776.3 602.7h1.0v1.0h-1.0zM731.9 612.7h1.0v1.0h-1.0zM753.4 630.4h0.9v0.9h-0.9zM753.1 583.9h1.1v1.1h-1.1zM777.2 609.5h0.7v0.7h-0.7zM747.9 585.3h0.9v0.9h-0.9zM737.9 622.9h1.0v1.0h-1.0zM780.9 587.9h0.8v0.8h-0.8zM776.4 623.4h0.9v0.9h-0.9zM777.1 596.4h0.7v0.7h-0.7zM772.7 589.2h1.0v1.0h-1.0zM759.0 630.7h0.9v0.9h-0.9z"/><path fill="#1d3b5c" fill-opacity="0.75" d="M783.7 596.1h1.1v1.1h-1.1zM730.4 609.5h0.9v0.9h-0.9zM743.6 579.5h1.1v1.1h-1.1zM779.4 613.0h1.1v1.1h-1.1zM742.5 635.1h0.9v0.9h-0.9zM729.6 599.7h0.7v0.7h-0.7zM761.0 631.2h0.8v0.8h-0.8zM777.6 611.8h0.9v0.9h-0.9zM731.2 617.8h0.7v0.7h-0.7zM736.0 624.2h0.8v0.8h-0.8zM740.9 583.7h0.8v0.8h-0.8zM774.1 593.6h0.8v0.8h-0.8zM735.7 627.0h1.0v1.0h-1.0zM726.4 603.6h1.1v1.1h-1.1zM765.9 583.1h0.8v0.8h-0.8zM748.8 584.6h0.8v0.8h-0.8zM779.5 624.7h1.1v1.1h-1.1zM726.8 622.0h0.7v0.7h-0.7zM737.0 589.1h0.9v0.9h-0.9zM772.3 621.6h1.0v1.0h-1.0zM732.4 597.7h0.9v0.9h-0.9zM745.9 579.8h1.0v1.0h-1.0zM778.7 616.2h0.7v0.7h-0.7zM734.2 595.3h0.7v0.7h-0.7zM785.3 605.4h0.7v0.7h-0.7zM732.4 592.8h1.0v1.0h-1.0zM763.6 585.3h1.1v1.1h-1.1zM745.8 629.5h1.0v1.0h-1.0zM775.6 599.1h1.0v1.0h-1.0zM756.2 629.6h1.1v1.1h-1.1zM728.6 605.8h0.9v0.9h-0.9zM774.1 595.6h0.7v0.7h-0.7zM778.2 601.6h1.1v1.1h-1.1zM774.8 593.6h1.0v1.0h-1.0zM733.0 597.4h0.8v0.8h-0.8zM739.8 578.3h1.1v1.1h-1.1zM731.1 604.0h0.7v0.7h-0.7zM758.5 637.5h0.9v0.9h-0.9zM739.1 625.0h0.8v0.8h-0.8zM773.4 619.6h1.1v1.1h-1.1zM761.5 629.0h0.9v0.9h-0.9zM753.9 582.3h1.0v1.0h-1.0zM741.2 637.6h1.1v1.1h-1.1zM748.3 584.8h0.8v0.8h-0.8zM739.0 634.8h0.7v0.7h-0.7zM742.9 628.9h0.9v0.9h-0.9zM733.9 596.8h0.9v0.9h-0.9zM770.4 624.6h0.9v0.9h-0.9zM740.8 584.7h1.1v1.1h-1.1zM772.5 592.2h0.7v0.7h-0.7zM763.5 583.6h1.1v1.1h-1.1zM743.7 577.1h1.1v1.1h-1.1zM749.5 582.3h0.9v0.9h-0.9zM732.9 617.7h1.1v1.1h-1.1zM743.9 584.9h0.9v0.9h-0.9zM749.5 636.9h0.8v0.8h-0.8zM732.1 598.0h0.7v0.7h-0.7zM722.7 617.6h1.1v1.1h-1.1zM738.1 579.7h0.7v0.7h-0.7zM722.6 613.5h0.7v0.7h-0.7zM751.0 631.9h0.9v0.9h-0.9zM771.0 589.8h0.8v0.8h-0.8zM773.5 624.9h0.8v0.8h-0.8zM761.1 584.7h0.8v0.8h-0.8zM781.5 599.2h1.0v1.0h-1.0zM740.4 635.6h1.1v1.1h-1.1zM758.5 633.9h1.0v1.0h-1.0zM737.4 580.6h1.1v1.1h-1.1zM752.5 632.6h0.9v0.9h-0.9zM766.0 630.8h0.7v0.7h-0.7zM750.0 581.4h1.1v1.1h-1.1zM777.6 595.2h1.0v1.0h-1.0zM749.3 580.9h1.0v1.0h-1.0zM727.9 613.7h0.8v0.8h-0.8zM760.0 584.5h1.0v1.0h-1.0zM777.0 617.8h0.8v0.8h-0.8zM766.7 582.2h0.8v0.8h-0.8zM739.5 585.2h0.9v0.9h-0.9zM772.7 622.5h0.9v0.9h-0.9zM774.1 622.5h0.9v0.9h-0.9z"/><path fill="#1d3b5c" fill-opacity="0.9" d="M736.6 622.4h0.7v0.7h-0.7zM752.2 580.9h1.1v1.1h-1.1zM731.3 606.9h0.8v0.8h-0.8zM767.8 626.0h1.1v1.1h-1.1zM729.7 607.0h0.9v0.9h-0.9zM734.3 586.6h0.8v0.8h-0.8zM750.4 582.2h0.9v0.9h-0.9zM772.2 620.7h0.8v0.8h-0.8zM780.6 610.6h0.9v0.9h-0.9zM736.3 622.1h0.7v0.7h-0.7zM759.6 582.9h1.0v1.0h-1.0zM731.3 611.1h0.8v0.8h-0.8zM742.9 633.6h1.1v1.1h-1.1zM776.0 612.6h0.7v0.7h-0.7zM783.2 605.5h0.8v0.8h-0.8zM745.1 631.8h0.7v0.7h-0.7zM761.8 633.6h1.1v1.1h-1.1zM727.0 604.1h0.9v0.9h-0.9zM745.8 585.7h1.1v1.1h-1.1zM728.2 596.3h0.9v0.9h-0.9zM729.8 591.9h0.9v0.9h-0.9zM756.9 630.3h1.0v1.0h-1.0zM775.8 591.6h1.1v1.1h-1.1zM757.8 634.1h0.8v0.8h-0.8zM731.2 606.5h0.7v0.7h-0.7zM776.1 595.6h0.9v0.9h-0.9zM736.2 622.9h1.0v1.0h-1.0zM750.9 583.6h0.9v0.9h-0.9zM731.7 612.2h0.7v0.7h-0.7zM754.3 583.5h0.8v0.8h-0.8zM732.6 614.3h1.0v1.0h-1.0zM732.4 615.3h0.9v0.9h-0.9zM735.7 623.8h0.8v0.8h-0.8zM738.3 585.8h0.8v0.8h-0.8zM775.8 598.4h0.8v0.8h-0.8zM763.2 631.4h0.9v0.9h-0.9zM780.4 616.0h0.7v0.7h-0.7zM742.1 629.5h0.8v0.8h-0.8zM774.2 586.2h1.1v1.1h-1.1zM744.3 630.6h1.1v1.1h-1.1zM772.4 590.5h0.7v0.7h-0.7zM746.4 579.9h0.8v0.8h-0.8zM745.8 584.2h0.9v0.9h-0.9zM768.7 624.1h1.0v1.0h-1.0zM758.1 583.8h1.0v1.0h-1.0zM777.2 615.3h0.8v0.8h-0.8zM751.4 631.9h0.8v0.8h-0.8zM753.7 631.1h0.9v0.9h-0.9zM747.0 629.6h1.0v1.0h-1.0zM741.0 582.1h0.8v0.8h-0.8zM777.4 604.8h0.7v0.7h-0.7zM728.0 593.3h0.9v0.9h-0.9zM731.9 619.9h0.9v0.9h-0.9zM767.5 628.4h1.0v1.0h-1.0zM775.1 595.2h0.8v0.8h-0.8zM777.8 608.5h0.9v0.9h-0.9zM776.8 624.9h1.1v1.1h-1.1zM732.2 599.2h1.0v1.0h-1.0zM772.5 626.4h1.0v1.0h-1.0zM731.6 600.6h0.7v0.7h-0.7zM774.9 617.3h0.8v0.8h-0.8zM735.3 589.5h1.1v1.1h-1.1zM731.0 602.6h0.8v0.8h-0.8zM744.1 582.6h0.7v0.7h-0.7zM737.3 584.1h1.0v1.0h-1.0zM749.7 584.0h1.0v1.0h-1.0zM772.6 625.5h0.8v0.8h-0.8zM734.1 619.9h0.7v0.7h-0.7zM758.8 584.2h0.8v0.8h-0.8zM726.8 616.9h1.0v1.0h-1.0z"/><path fill="#1d3b5c" fill-opacity="1.0" d="M776.9 600.2h0.7v0.7h-0.7zM728.9 611.1h1.0v1.0h-1.0zM775.0 597.8h1.0v1.0h-1.0zM763.6 631.4h1.0v1.0h-1.0zM750.8 630.6h1.0v1.0h-1.0zM781.5 607.0h1.1v1.1h-1.1zM737.5 622.8h0.7v0.7h-0.7zM738.7 624.4h1.0v1.0h-1.0zM737.6 590.8h1.0v1.0h-1.0zM765.7 634.0h0.8v0.8h-0.8zM743.0 627.2h1.1v1.1h-1.1zM752.0 629.7h0.7v0.7h-0.7zM747.8 635.6h0.9v0.9h-0.9zM746.3 630.2h1.1v1.1h-1.1zM778.7 613.3h0.8v0.8h-0.8zM777.1 609.9h1.1v1.1h-1.1zM768.3 625.5h1.0v1.0h-1.0zM771.4 624.2h0.8v0.8h-0.8zM732.7 620.2h0.7v0.7h-0.7zM730.8 603.2h0.9v0.9h-0.9zM761.7 629.3h0.9v0.9h-0.9zM754.0 582.7h0.9v0.9h-0.9zM760.1 581.2h0.8v0.8h-0.8zM770.7 625.9h0.9v0.9h-0.9zM781.8 614.9h1.1v1.1h-1.1zM777.9 610.6h0.8v0.8h-0.8zM741.6 588.1h1.0v1.0h-1.0zM739.0 629.8h0.9v0.9h-0.9zM770.0 588.2h0.8v0.8h-0.8zM761.7 584.9h0.8v0.8h-0.8zM776.0 617.1h0.8v0.8h-0.8zM750.2 633.1h1.1v1.1h-1.1zM768.9 625.6h1.0v1.0h-1.0zM738.3 588.8h0.7v0.7h-0.7zM735.1 619.9h0.8v0.8h-0.8zM751.4 630.6h1.1v1.1h-1.1zM730.2 606.5h1.1v1.1h-1.1zM771.6 621.9h0.9v0.9h-0.9zM728.4 619.9h1.1v1.1h-1.1zM765.1 628.4h0.8v0.8h-0.8zM765.9 586.5h0.9v0.9h-0.9zM746.3 629.3h1.0v1.0h-1.0zM775.6 618.3h0.7v0.7h-0.7zM769.5 590.7h0.9v0.9h-0.9zM739.5 632.5h1.1v1.1h-1.1zM777.9 597.3h1.1v1.1h-1.1zM737.1 623.7h1.1v1.1h-1.1zM738.4 624.5h1.1v1.1h-1.1zM741.4 627.5h0.9v0.9h-0.9zM765.9 583.7h1.0v1.0h-1.0zM778.2 610.7h0.7v0.7h-0.7zM774.4 621.4h1.1v1.1h-1.1zM731.1 590.7h0.7v0.7h-0.7zM736.7 592.4h1.0v1.0h-1.0zM738.5 590.5h1.0v1.0h-1.0zM732.6 615.7h0.7v0.7h-0.7zM728.5 601.9h0.7v0.7h-0.7zM775.1 626.1h1.1v1.1h-1.1zM770.5 629.4h0.9v0.9h-0.9zM747.1 631.8h1.1v1.1h-1.1zM734.3 619.5h0.9v0.9h-0.9zM768.1 589.0h0.7v0.7h-0.7zM743.7 630.0h0.9v0.9h-0.9zM775.5 617.2h0.8v0.8h-0.8zM763.7 579.5h0.8v0.8h-0.8zM777.1 607.8h0.8v0.8h-0.8zM729.7 602.6h0.7v0.7h-0.7zM738.9 586.1h1.0v1.0h-1.0zM776.7 592.3h0.9v0.9h-0.9zM732.8 596.3h0.9v0.9h-0.9zM732.3 618.8h1.0v1.0h-1.0zM730.2 621.3h1.0v1.0h-1.0zM730.9 616.2h0.7v0.7h-0.7zM774.6 596.9h1.0v1.0h-1.0z"/><path fill="#24496f" fill-opacity="0.45" d="M760.7 636.4h0.8v0.8h-0.8zM745.0 635.8h1.1v1.1h-1.1zM725.7 598.6h0.8v0.8h-0.8zM740.8 636.5h0.8v0.8h-0.8zM784.4 602.6h1.0v1.0h-1.0zM770.2 580.7h0.7v0.7h-0.7zM727.4 588.9h0.8v0.8h-0.8zM762.1 636.5h0.8v0.8h-0.8zM758.9 575.5h0.7v0.7h-0.7zM785.8 610.3h1.1v1.1h-1.1zM739.4 632.9h0.8v0.8h-0.8zM726.2 593.3h1.1v1.1h-1.1zM769.2 578.4h0.8v0.8h-0.8zM782.8 598.4h0.7v0.7h-0.7zM771.9 581.5h1.1v1.1h-1.1zM786.9 604.2h0.7v0.7h-0.7z"/><path fill="#24496f" fill-opacity="0.6" d="M735.0 594.3h1.0v1.0h-1.0zM731.4 598.7h0.7v0.7h-0.7zM720.7 604.5h0.8v0.8h-0.8zM767.0 582.2h0.8v0.8h-0.8zM780.6 614.2h1.0v1.0h-1.0zM777.9 607.5h1.1v1.1h-1.1zM778.4 602.2h0.8v0.8h-0.8zM748.1 580.9h1.0v1.0h-1.0zM744.2 585.3h0.9v0.9h-0.9zM778.0 615.2h0.9v0.9h-0.9zM734.6 622.7h1.0v1.0h-1.0zM765.6 629.1h0.8v0.8h-0.8zM750.8 584.6h1.0v1.0h-1.0zM775.0 619.0h1.1v1.1h-1.1zM754.4 581.1h0.7v0.7h-0.7zM743.8 585.5h0.7v0.7h-0.7zM738.5 589.1h1.0v1.0h-1.0zM727.5 605.6h1.0v1.0h-1.0zM746.7 584.1h0.7v0.7h-0.7zM728.6 602.0h1.0v1.0h-1.0zM760.7 575.9h1.0v1.0h-1.0zM785.2 609.2h1.1v1.1h-1.1zM730.2 604.2h1.0v1.0h-1.0zM738.4 626.7h1.1v1.1h-1.1zM750.3 633.4h0.7v0.7h-0.7zM742.3 586.3h0.9v0.9h-0.9zM730.4 597.4h1.0v1.0h-1.0zM730.6 596.1h1.1v1.1h-1.1zM748.3 584.9h0.7v0.7h-0.7zM776.7 613.3h1.1v1.1h-1.1zM773.7 593.1h0.7v0.7h-0.7zM777.0 607.3h1.1v1.1h-1.1zM772.4 624.8h1.1v1.1h-1.1zM748.9 633.2h1.1v1.1h-1.1zM752.3 631.3h0.9v0.9h-0.9zM743.1 628.3h1.1v1.1h-1.1zM750.5 583.3h0.8v0.8h-0.8zM758.4 576.5h1.0v1.0h-1.0zM739.1 626.8h0.7v0.7h-0.7zM738.4 590.6h0.9v0.9h-0.9zM758.5 629.6h1.1v1.1h-1.1zM731.4 615.9h1.0v1.0h-1.0zM740.6 588.6h1.0v1.0h-1.0zM772.8 621.6h0.9v0.9h-0.9zM737.7 587.1h0.8v0.8h-0.8zM745.4 583.1h0.7v0.7h-0.7zM770.1 578.9h0.8v0.8h-0.8zM762.2 585.1h0.9v0.9h-0.9zM776.6 626.8h0.9v0.9h-0.9zM730.7 607.4h1.1v1.1h-1.1zM738.8 583.0h0.7v0.7h-0.7zM734.1 588.5h0.8v0.8h-0.8zM732.3 617.7h0.9v0.9h-0.9zM754.6 582.4h0.7v0.7h-0.7zM734.2 584.1h0.7v0.7h-0.7zM746.8 579.0h0.9v0.9h-0.9zM763.3 583.6h1.0v1.0h-1.0zM776.7 617.9h0.9v0.9h-0.9zM730.5 615.9h0.8v0.8h-0.8zM724.8 621.6h0.7v0.7h-0.7zM755.9 630.0h1.1v1.1h-1.1zM731.5 595.9h1.0v1.0h-1.0zM728.4 619.6h0.9v0.9h-0.9zM773.1 619.6h0.8v0.8h-0.8zM735.4 592.5h0.7v0.7h-0.7zM777.2 620.7h1.1v1.1h-1.1zM728.9 621.3h1.0v1.0h-1.0zM728.0 590.1h1.1v1.1h-1.1zM777.7 598.8h0.8v0.8h-0.8zM725.7 612.6h0.9v0.9h-0.9zM766.3 635.8h0.7v0.7h-0.7zM747.6 577.0h1.1v1.1h-1.1zM764.0 628.6h0.7v0.7h-0.7zM734.8 622.5h1.1v1.1h-1.1zM777.7 606.9h1.1v1.1h-1.1zM768.8 586.4h0.9v0.9h-0.9zM780.7 601.8h0.9v0.9h-0.9zM740.2 584.0h1.1v1.1h-1.1zM750.9 583.1h0.9v0.9h-0.9zM722.9 596.1h0.7v0.7h-0.7zM773.9 590.3h0.9v0.9h-0.9zM730.9 607.1h0.8v0.8h-0.8zM773.3 618.7h0.9v0.9h-0.9zM780.4 621.2h0.8v0.8h-0.8zM757.7 630.8h1.1v1.1h-1.1zM747.5 584.9h0.7v0.7h-0.7zM742.6 636.0h0.7v0.7h-0.7zM774.0 586.1h0.7v0.7h-0.7zM772.6 584.6h0.9v0.9h-0.9zM767.7 585.5h1.0v1.0h-1.0zM733.2 620.7h1.0v1.0h-1.0zM764.2 628.0h1.0v1.0h-1.0zM763.7 585.2h1.0v1.0h-1.0z"/><path fill="#24496f" fill-opacity="0.75" d="M731.0 619.9h0.8v0.8h-0.8zM741.1 587.6h1.1v1.1h-1.1zM732.7 598.3h1.1v1.1h-1.1zM731.7 584.7h1.0v1.0h-1.0zM747.5 632.2h0.7v0.7h-0.7zM746.1 631.2h0.8v0.8h-0.8zM740.0 589.1h1.0v1.0h-1.0zM775.6 624.7h1.0v1.0h-1.0zM735.3 592.1h1.1v1.1h-1.1zM732.5 618.4h1.0v1.0h-1.0zM773.7 623.2h1.0v1.0h-1.0zM768.8 589.4h1.0v1.0h-1.0zM737.1 591.8h1.1v1.1h-1.1zM763.8 628.2h1.0v1.0h-1.0zM730.5 616.5h0.7v0.7h-0.7zM737.1 581.9h0.9v0.9h-0.9zM729.1 607.3h1.1v1.1h-1.1zM772.9 593.0h1.0v1.0h-1.0zM745.0 630.4h0.8v0.8h-0.8zM741.4 587.5h0.9v0.9h-0.9zM729.6 607.8h1.1v1.1h-1.1zM730.9 600.7h1.0v1.0h-1.0zM745.2 634.3h1.0v1.0h-1.0zM735.7 588.3h1.0v1.0h-1.0zM776.9 602.3h1.0v1.0h-1.0zM746.3 630.4h1.0v1.0h-1.0zM745.4 631.3h0.9v0.9h-0.9zM755.1 584.0h0.7v0.7h-0.7zM748.0 582.3h0.9v0.9h-0.9zM725.4 615.7h1.0v1.0h-1.0zM768.7 630.2h0.9v0.9h-0.9zM738.4 588.0h1.1v1.1h-1.1zM747.2 630.8h0.9v0.9h-0.9zM757.3 581.6h0.9v0.9h-0.9zM754.3 629.8h0.7v0.7h-0.7zM768.8 624.6h1.1v1.1h-1.1zM736.7 589.2h0.7v0.7h-0.7zM729.2 615.8h0.9v0.9h-0.9zM759.3 583.5h1.0v1.0h-1.0zM736.8 625.4h0.9v0.9h-0.9zM761.5 583.0h0.7v0.7h-0.7zM775.2 623.5h0.7v0.7h-0.7zM763.8 586.5h0.9v0.9h-0.9zM758.6 630.2h0.7v0.7h-0.7zM734.7 622.0h0.7v0.7h-0.7zM779.7 606.0h0.9v0.9h-0.9zM737.8 626.9h0.9v0.9h-0.9zM730.8 606.1h0.7v0.7h-0.7zM729.2 605.3h1.0v1.0h-1.0zM777.6 590.4h1.0v1.0h-1.0zM757.9 629.7h1.0v1.0h-1.0zM749.3 585.0h1.0v1.0h-1.0zM776.7 602.5h1.1v1.1h-1.1zM745.0 629.2h0.9v0.9h-0.9zM728.0 607.6h0.8v0.8h-0.8zM740.8 586.7h0.9v0.9h-0.9zM768.5 636.5h1.0v1.0h-1.0zM744.1 629.7h0.8v0.8h-0.8zM744.4 633.5h1.0v1.0h-1.0zM782.4 605.8h0.7v0.7h-0.7zM758.9 632.5h0.7v0.7h-0.7zM752.4 580.8h1.0v1.0h-1.0zM755.4 581.2h1.1v1.1h-1.1zM745.3 631.7h0.9v0.9h-0.9zM772.5 623.7h0.7v0.7h-0.7zM739.5 628.8h0.9v0.9h-0.9zM730.9 610.5h1.1v1.1h-1.1zM762.6 581.7h0.9v0.9h-0.9zM757.8 583.5h0.9v0.9h-0.9zM730.7 616.1h0.9v0.9h-0.9zM767.8 586.1h0.9v0.9h-0.9zM758.7 584.1h0.9v0.9h-0.9zM757.6 630.1h1.0v1.0h-1.0zM775.5 617.4h0.9v0.9h-0.9zM777.1 605.3h0.7v0.7h-0.7zM729.5 615.3h0.8v0.8h-0.8zM740.6 588.7h0.7v0.7h-0.7zM770.8 626.4h0.8v0.8h-0.8zM764.5 628.8h1.1v1.1h-1.1zM739.6 624.9h0.7v0.7h-0.7zM748.3 582.8h0.7v0.7h-0.7zM782.5 610.9h0.7v0.7h-0.7zM760.7 630.7h0.7v0.7h-0.7zM729.1 606.1h1.1v1.1h-1.1zM748.8 583.6h0.7v0.7h-0.7zM751.6 583.1h1.1v1.1h-1.1zM754.1 629.8h0.7v0.7h-0.7zM727.0 599.4h0.8v0.8h-0.8zM758.1 632.0h0.7v0.7h-0.7zM770.5 590.2h0.9v0.9h-0.9zM775.5 617.5h0.9v0.9h-0.9zM750.3 631.5h0.7v0.7h-0.7zM731.6 616.8h1.0v1.0h-1.0zM750.2 636.2h0.9v0.9h-0.9zM766.8 626.0h1.0v1.0h-1.0zM732.8 621.7h0.8v0.8h-0.8zM747.7 639.2h1.1v1.1h-1.1zM732.3 616.3h0.8v0.8h-0.8zM770.0 626.9h0.9v0.9h-0.9zM733.8 593.1h1.0v1.0h-1.0zM765.2 628.4h1.0v1.0h-1.0z"/><path fill="#24496f" fill-opacity="0.9" d="M775.2 593.4h0.8v0.8h-0.8zM772.8 593.5h1.1v1.1h-1.1zM730.9 607.2h1.0v1.0h-1.0zM730.0 609.9h0.7v0.7h-0.7zM777.6 607.5h0.7v0.7h-0.7zM726.5 603.2h1.0v1.0h-1.0zM758.0 580.9h0.8v0.8h-0.8zM760.7 582.4h0.7v0.7h-0.7zM767.9 624.8h1.0v1.0h-1.0zM731.4 608.7h0.8v0.8h-0.8zM738.3 584.9h0.9v0.9h-0.9zM751.5 629.8h0.9v0.9h-0.9zM729.2 597.4h1.0v1.0h-1.0zM729.3 614.1h1.0v1.0h-1.0zM766.7 625.5h1.1v1.1h-1.1zM726.7 603.5h0.9v0.9h-0.9zM777.7 605.4h0.9v0.9h-0.9zM745.6 630.3h1.0v1.0h-1.0zM732.1 619.4h0.8v0.8h-0.8zM752.5 632.5h0.7v0.7h-0.7zM754.5 583.6h1.0v1.0h-1.0zM744.2 631.8h1.1v1.1h-1.1zM781.2 605.5h0.8v0.8h-0.8zM731.7 600.5h0.7v0.7h-0.7zM774.1 623.7h0.8v0.8h-0.8zM763.7 628.3h0.9v0.9h-0.9zM761.8 630.2h1.1v1.1h-1.1zM761.0 629.6h1.0v1.0h-1.0zM730.0 606.4h0.8v0.8h-0.8zM728.1 604.1h0.8v0.8h-0.8zM747.0 584.9h1.0v1.0h-1.0zM737.3 585.4h0.8v0.8h-0.8zM729.6 609.9h1.1v1.1h-1.1zM727.9 594.1h0.8v0.8h-0.8zM780.5 605.8h1.0v1.0h-1.0zM732.1 620.9h0.9v0.9h-0.9zM755.2 631.9h0.7v0.7h-0.7zM728.2 604.6h0.8v0.8h-0.8zM729.5 604.6h0.8v0.8h-0.8zM769.9 629.7h0.8v0.8h-0.8zM764.6 627.2h0.8v0.8h-0.8zM772.3 623.6h0.9v0.9h-0.9zM770.2 588.6h1.1v1.1h-1.1zM734.4 624.5h0.7v0.7h-0.7zM744.6 586.0h1.1v1.1h-1.1zM761.2 579.5h1.0v1.0h-1.0zM778.9 615.0h1.0v1.0h-1.0zM779.0 594.6h0.9v0.9h-0.9zM776.2 618.3h1.0v1.0h-1.0zM749.7 582.1h0.8v0.8h-0.8zM758.5 632.3h0.7v0.7h-0.7zM773.9 619.4h0.9v0.9h-0.9zM781.0 613.7h0.7v0.7h-0.7zM756.9 581.2h0.9v0.9h-0.9zM734.2 592.6h0.7v0.7h-0.7zM730.0 616.7h1.0v1.0h-1.0zM779.1 606.9h1.0v1.0h-1.0zM751.1 584.0h1.1v1.1h-1.1zM754.0 583.6h1.0v1.0h-1.0zM736.1 623.8h0.7v0.7h-0.7zM770.8 589.7h1.0v1.0h-1.0zM780.9 607.9h0.8v0.8h-0.8zM767.6 587.2h1.0v1.0h-1.0zM731.7 623.6h0.9v0.9h-0.9zM738.9 624.4h0.8v0.8h-0.8z"/><path fill="#24496f" fill-opacity="1.0" d="M729.8 610.3h0.7v0.7h-0.7zM758.5 585.0h0.9v0.9h-0.9zM754.3 633.0h0.7v0.7h-0.7zM775.5 597.2h0.8v0.8h-0.8zM732.4 617.9h1.0v1.0h-1.0zM736.8 624.1h1.0v1.0h-1.0zM744.0 584.9h0.9v0.9h-0.9zM779.0 611.4h1.0v1.0h-1.0zM775.8 618.6h1.0v1.0h-1.0zM769.4 629.2h0.8v0.8h-0.8zM731.0 611.5h1.1v1.1h-1.1zM727.3 615.2h0.8v0.8h-0.8zM776.6 603.4h0.9v0.9h-0.9zM727.5 602.5h0.9v0.9h-0.9zM729.3 609.8h0.7v0.7h-0.7zM748.9 631.0h0.9v0.9h-0.9zM777.4 610.7h1.0v1.0h-1.0zM782.9 604.7h1.0v1.0h-1.0zM738.7 625.0h1.0v1.0h-1.0zM782.5 603.1h0.7v0.7h-0.7zM781.2 607.9h0.7v0.7h-0.7zM762.4 585.5h0.9v0.9h-0.9zM776.1 615.4h0.7v0.7h-0.7zM728.3 607.1h0.8v0.8h-0.8zM734.1 627.0h1.0v1.0h-1.0zM770.3 626.4h1.1v1.1h-1.1zM730.3 611.1h1.0v1.0h-1.0zM774.5 616.8h0.7v0.7h-0.7zM742.6 631.9h0.9v0.9h-0.9zM733.5 591.3h0.8v0.8h-0.8zM760.1 628.8h1.1v1.1h-1.1zM755.4 634.6h0.8v0.8h-0.8zM733.5 618.5h0.9v0.9h-0.9zM758.7 583.4h0.8v0.8h-0.8zM732.2 594.0h0.7v0.7h-0.7zM734.9 620.2h1.1v1.1h-1.1zM730.2 600.5h1.0v1.0h-1.0zM740.1 585.5h0.7v0.7h-0.7zM753.1 629.7h0.8v0.8h-0.8zM751.1 581.5h0.8v0.8h-0.8zM740.9 587.9h0.7v0.7h-0.7zM756.6 630.1h0.9v0.9h-0.9zM769.4 588.6h1.0v1.0h-1.0zM754.1 583.1h0.8v0.8h-0.8zM742.1 631.9h0.9v0.9h-0.9zM728.9 622.3h0.8v0.8h-0.8zM761.2 583.5h0.7v0.7h-0.7zM729.5 608.0h1.0v1.0h-1.0zM732.1 595.1h0.7v0.7h-0.7zM776.8 603.1h0.7v0.7h-0.7zM736.5 588.3h0.9v0.9h-0.9zM781.5 603.7h0.9v0.9h-0.9zM758.4 629.6h1.1v1.1h-1.1zM763.5 628.7h1.0v1.0h-1.0zM777.3 620.9h0.8v0.8h-0.8zM753.0 630.0h0.9v0.9h-0.9zM747.9 632.3h0.7v0.7h-0.7zM773.6 621.2h1.1v1.1h-1.1zM756.3 631.8h1.1v1.1h-1.1zM726.5 602.9h1.1v1.1h-1.1zM731.3 611.4h0.8v0.8h-0.8zM775.2 597.2h1.0v1.0h-1.0zM727.0 602.3h0.9v0.9h-0.9zM739.2 629.3h1.0v1.0h-1.0z"/><path fill="#2f5f88" fill-opacity="0.45" d="M731.2 585.2h0.7v0.7h-0.7zM746.4 577.3h1.0v1.0h-1.0zM728.6 585.6h1.1v1.1h-1.1z"/><path fill="#2f5f88" fill-opacity="0.6" d="M778.8 614.0h1.1v1.1h-1.1zM731.2 599.9h1.1v1.1h-1.1zM731.6 602.6h0.8v0.8h-0.8zM760.4 631.5h1.1v1.1h-1.1zM740.9 587.9h0.9v0.9h-0.9zM730.6 610.7h0.8v0.8h-0.8zM731.1 615.5h0.7v0.7h-0.7zM766.4 629.8h1.1v1.1h-1.1zM769.4 586.2h1.0v1.0h-1.0zM729.8 595.3h0.8v0.8h-0.8zM776.7 589.1h0.7v0.7h-0.7zM774.5 629.4h0.9v0.9h-0.9zM729.2 618.0h0.7v0.7h-0.7zM771.9 592.2h1.0v1.0h-1.0zM745.1 586.0h0.7v0.7h-0.7zM774.4 618.9h1.1v1.1h-1.1zM760.8 635.3h1.0v1.0h-1.0zM747.2 584.5h0.9v0.9h-0.9zM766.6 582.1h1.0v1.0h-1.0zM780.1 607.1h0.8v0.8h-0.8zM784.3 595.9h1.0v1.0h-1.0zM740.5 625.3h1.1v1.1h-1.1zM738.0 628.6h0.7v0.7h-0.7zM759.7 584.9h1.1v1.1h-1.1zM786.5 612.0h0.9v0.9h-0.9zM774.2 590.4h0.8v0.8h-0.8zM730.9 591.6h1.0v1.0h-1.0zM732.0 598.2h0.9v0.9h-0.9zM773.2 591.3h1.0v1.0h-1.0zM754.6 578.9h0.8v0.8h-0.8zM778.3 595.7h0.8v0.8h-0.8zM781.7 602.2h0.7v0.7h-0.7zM775.4 614.2h1.0v1.0h-1.0zM764.5 578.6h0.8v0.8h-0.8zM755.0 629.9h0.9v0.9h-0.9zM753.4 581.4h0.8v0.8h-0.8zM774.4 593.5h1.1v1.1h-1.1zM739.4 587.6h0.9v0.9h-0.9zM726.9 611.6h0.9v0.9h-0.9zM755.4 583.5h1.1v1.1h-1.1z"/><path fill="#2f5f88" fill-opacity="0.75" d="M728.8 613.1h0.7v0.7h-0.7zM755.2 631.7h1.0v1.0h-1.0zM735.0 619.7h1.0v1.0h-1.0zM734.1 589.5h1.0v1.0h-1.0zM749.5 584.9h0.7v0.7h-0.7zM778.2 602.4h0.9v0.9h-0.9zM733.3 596.6h0.7v0.7h-0.7zM765.4 636.4h0.9v0.9h-0.9zM784.6 600.0h0.8v0.8h-0.8zM730.5 613.3h0.7v0.7h-0.7zM762.6 585.2h0.8v0.8h-0.8zM731.6 603.2h0.8v0.8h-0.8zM740.0 625.5h1.1v1.1h-1.1zM761.9 584.0h0.8v0.8h-0.8zM730.2 606.1h0.8v0.8h-0.8zM721.1 610.7h0.9v0.9h-0.9zM766.4 583.0h0.9v0.9h-0.9zM759.2 629.5h0.8v0.8h-0.8zM754.9 632.0h1.1v1.1h-1.1zM755.5 632.9h1.0v1.0h-1.0zM732.2 614.8h0.8v0.8h-0.8zM730.9 611.5h1.1v1.1h-1.1zM737.7 632.0h0.7v0.7h-0.7zM747.8 632.4h0.8v0.8h-0.8zM775.2 616.6h1.1v1.1h-1.1zM775.6 630.6h0.7v0.7h-0.7zM735.3 581.9h0.9v0.9h-0.9zM734.9 622.9h0.9v0.9h-0.9zM774.5 620.3h0.7v0.7h-0.7zM776.2 613.5h1.0v1.0h-1.0zM760.6 584.0h0.9v0.9h-0.9zM775.7 593.0h0.9v0.9h-0.9zM728.6 619.0h1.1v1.1h-1.1zM743.3 586.7h1.1v1.1h-1.1zM730.1 608.2h0.7v0.7h-0.7zM783.6 604.2h1.0v1.0h-1.0zM761.8 628.8h1.1v1.1h-1.1zM762.1 585.2h0.7v0.7h-0.7zM725.0 607.9h1.1v1.1h-1.1zM757.0 584.0h0.8v0.8h-0.8zM777.2 612.8h0.7v0.7h-0.7zM736.1 624.8h0.7v0.7h-0.7zM773.7 591.4h0.8v0.8h-0.8zM734.8 590.2h0.9v0.9h-0.9zM779.2 610.0h1.0v1.0h-1.0zM759.6 584.2h0.8v0.8h-0.8zM754.8 582.8h0.7v0.7h-0.7zM727.8 614.0h1.0v1.0h-1.0zM730.3 596.4h0.7v0.7h-0.7z"/><path fill="#2f5f88" fill-opacity="0.9" d="M776.8 614.3h1.1v1.1h-1.1zM742.5 585.7h0.7v0.7h-0.7zM768.6 625.1h0.9v0.9h-0.9zM762.5 586.1h0.7v0.7h-0.7zM742.9 629.0h1.0v1.0h-1.0zM737.6 623.9h1.0v1.0h-1.0zM778.2 600.3h1.1v1.1h-1.1zM774.9 597.0h0.9v0.9h-0.9zM726.4 605.2h0.9v0.9h-0.9zM778.5 621.4h1.1v1.1h-1.1zM764.1 584.3h1.0v1.0h-1.0zM727.3 610.9h0.9v0.9h-0.9zM763.1 579.4h1.1v1.1h-1.1zM733.7 594.7h0.9v0.9h-0.9zM751.4 631.3h1.0v1.0h-1.0zM755.3 583.5h1.1v1.1h-1.1zM770.6 584.5h0.7v0.7h-0.7zM743.3 587.3h0.7v0.7h-0.7zM736.3 592.8h1.0v1.0h-1.0zM779.0 594.8h0.9v0.9h-0.9zM731.7 612.7h0.7v0.7h-0.7zM730.5 597.7h1.0v1.0h-1.0zM776.8 600.1h0.7v0.7h-0.7zM750.0 578.1h1.1v1.1h-1.1zM766.3 627.1h0.7v0.7h-0.7zM732.0 616.2h0.8v0.8h-0.8zM746.4 629.1h0.7v0.7h-0.7zM776.2 625.6h1.1v1.1h-1.1zM736.0 620.9h1.0v1.0h-1.0zM775.0 592.4h0.9v0.9h-0.9zM731.8 614.5h0.8v0.8h-0.8zM773.4 592.1h1.1v1.1h-1.1zM731.2 597.4h0.8v0.8h-0.8zM729.7 609.7h1.0v1.0h-1.0zM730.0 599.6h1.1v1.1h-1.1zM732.4 618.5h1.0v1.0h-1.0zM739.6 625.8h1.1v1.1h-1.1zM768.6 624.7h0.7v0.7h-0.7zM772.4 627.8h1.0v1.0h-1.0zM761.1 629.7h0.9v0.9h-0.9zM736.4 625.1h1.0v1.0h-1.0zM737.3 586.9h1.1v1.1h-1.1zM753.3 579.7h0.8v0.8h-0.8z"/><path fill="#2f5f88" fill-opacity="1.0" d="M771.3 622.9h0.9v0.9h-0.9zM736.1 621.8h0.7v0.7h-0.7zM776.9 602.8h0.8v0.8h-0.8zM778.3 593.9h1.1v1.1h-1.1zM776.0 593.5h0.8v0.8h-0.8zM728.7 596.2h1.0v1.0h-1.0zM770.8 625.0h1.1v1.1h-1.1zM779.7 608.5h0.8v0.8h-0.8zM777.6 617.2h1.0v1.0h-1.0zM759.7 633.7h1.0v1.0h-1.0zM750.5 630.4h0.9v0.9h-0.9zM741.4 625.9h0.7v0.7h-0.7zM760.3 584.5h1.0v1.0h-1.0zM773.3 591.3h1.0v1.0h-1.0zM745.7 583.8h0.9v0.9h-0.9zM740.7 625.8h1.1v1.1h-1.1zM730.1 617.2h0.7v0.7h-0.7zM736.0 622.4h0.8v0.8h-0.8zM764.3 584.5h0.8v0.8h-0.8zM778.2 622.8h0.9v0.9h-0.9zM767.3 584.3h0.8v0.8h-0.8zM726.1 610.3h0.7v0.7h-0.7zM730.3 613.0h1.1v1.1h-1.1zM769.0 624.3h0.8v0.8h-0.8zM734.0 619.8h0.7v0.7h-0.7zM740.6 626.5h1.0v1.0h-1.0zM751.5 580.9h0.7v0.7h-0.7zM778.1 602.6h0.8v0.8h-0.8zM730.3 605.2h1.0v1.0h-1.0zM768.7 588.4h0.9v0.9h-0.9zM727.2 608.3h1.1v1.1h-1.1zM777.9 606.4h0.9v0.9h-0.9zM733.7 596.0h0.9v0.9h-0.9zM729.4 598.5h1.0v1.0h-1.0zM753.8 583.7h1.0v1.0h-1.0zM742.6 585.9h0.7v0.7h-0.7zM739.4 628.0h1.1v1.1h-1.1zM776.9 617.1h0.7v0.7h-0.7zM733.5 587.1h0.7v0.7h-0.7zM770.3 583.9h1.0v1.0h-1.0zM735.1 622.8h0.9v0.9h-0.9zM727.8 612.6h0.9v0.9h-0.9z"/><path fill="#3f7aa6" fill-opacity="0.45" d="M752.3 639.3h0.7v0.7h-0.7zM725.8 621.1h0.7v0.7h-0.7zM726.6 592.6h0.9v0.9h-0.9zM733.0 583.6h0.7v0.7h-0.7zM775.5 584.1h0.9v0.9h-0.9zM729.7 589.4h0.7v0.7h-0.7zM756.9 577.6h1.0v1.0h-1.0zM785.4 606.3h0.7v0.7h-0.7zM780.4 622.9h0.9v0.9h-0.9zM755.8 637.9h0.7v0.7h-0.7z"/><path fill="#3f7aa6" fill-opacity="0.6" d="M739.5 624.4h0.8v0.8h-0.8zM768.5 625.3h1.0v1.0h-1.0zM779.1 607.3h0.8v0.8h-0.8zM754.2 583.1h0.7v0.7h-0.7zM775.6 592.7h0.8v0.8h-0.8zM728.8 607.2h1.1v1.1h-1.1zM776.1 612.7h1.1v1.1h-1.1zM774.9 616.2h0.9v0.9h-0.9zM736.3 632.3h1.0v1.0h-1.0zM727.5 606.1h0.8v0.8h-0.8zM776.7 593.7h0.9v0.9h-0.9zM747.5 630.8h1.1v1.1h-1.1zM741.8 582.5h1.0v1.0h-1.0zM780.4 608.4h0.9v0.9h-0.9zM729.1 602.4h0.8v0.8h-0.8zM775.8 624.2h0.8v0.8h-0.8zM773.6 619.1h1.1v1.1h-1.1zM730.5 613.3h1.0v1.0h-1.0zM779.3 597.4h1.1v1.1h-1.1zM731.5 599.6h1.0v1.0h-1.0zM734.1 618.1h0.7v0.7h-0.7zM732.1 612.2h0.8v0.8h-0.8zM755.8 582.3h0.8v0.8h-0.8zM780.4 611.5h1.1v1.1h-1.1zM747.6 582.2h0.9v0.9h-0.9zM784.1 618.3h1.0v1.0h-1.0zM759.5 632.8h0.9v0.9h-0.9zM771.0 626.5h0.8v0.8h-0.8zM727.3 587.5h0.7v0.7h-0.7zM726.1 608.9h1.0v1.0h-1.0zM743.7 587.2h0.7v0.7h-0.7zM739.5 589.4h0.7v0.7h-0.7zM752.2 629.6h0.7v0.7h-0.7zM781.7 620.4h0.8v0.8h-0.8zM740.5 625.8h0.7v0.7h-0.7zM769.3 590.1h0.9v0.9h-0.9zM780.3 614.6h0.8v0.8h-0.8zM731.6 604.8h0.8v0.8h-0.8zM736.9 591.6h0.9v0.9h-0.9zM724.3 617.3h0.7v0.7h-0.7zM763.4 585.2h0.7v0.7h-0.7zM774.7 617.7h1.0v1.0h-1.0zM754.0 582.7h0.7v0.7h-0.7z"/><path fill="#3f7aa6" fill-opacity="0.75" d="M778.0 604.9h1.0v1.0h-1.0zM786.2 614.2h0.9v0.9h-0.9zM738.2 623.3h0.8v0.8h-0.8zM777.4 613.4h0.8v0.8h-0.8zM770.6 591.5h0.8v0.8h-0.8zM768.5 585.7h1.1v1.1h-1.1zM738.4 588.4h1.0v1.0h-1.0zM770.8 584.0h0.8v0.8h-0.8zM734.5 620.0h1.1v1.1h-1.1zM732.0 623.7h0.7v0.7h-0.7zM759.3 634.4h0.8v0.8h-0.8zM784.9 605.6h0.7v0.7h-0.7zM760.5 628.8h1.0v1.0h-1.0zM751.6 633.0h0.7v0.7h-0.7zM745.0 629.5h1.1v1.1h-1.1zM761.4 583.4h0.8v0.8h-0.8zM778.0 618.0h0.9v0.9h-0.9zM774.4 581.6h0.7v0.7h-0.7zM748.4 584.5h1.1v1.1h-1.1zM749.0 630.7h1.0v1.0h-1.0zM728.0 626.6h1.0v1.0h-1.0zM780.2 596.4h0.7v0.7h-0.7zM729.2 628.3h0.8v0.8h-0.8zM775.6 599.7h1.0v1.0h-1.0zM741.9 587.0h0.8v0.8h-0.8zM785.9 612.3h0.7v0.7h-0.7zM749.3 584.9h0.9v0.9h-0.9zM750.9 630.1h1.1v1.1h-1.1zM777.5 593.7h1.1v1.1h-1.1zM767.6 588.0h1.1v1.1h-1.1zM778.2 597.9h1.1v1.1h-1.1zM774.4 595.9h0.8v0.8h-0.8zM775.5 596.3h0.7v0.7h-0.7zM734.4 625.0h0.9v0.9h-0.9zM735.6 582.2h0.9v0.9h-0.9zM775.9 601.1h1.0v1.0h-1.0zM730.3 617.1h0.8v0.8h-0.8zM774.9 583.3h0.7v0.7h-0.7zM775.0 582.0h0.8v0.8h-0.8zM763.9 629.4h0.8v0.8h-0.8zM736.5 586.8h0.7v0.7h-0.7zM731.7 611.0h0.9v0.9h-0.9zM743.2 631.2h1.0v1.0h-1.0zM751.9 581.9h0.8v0.8h-0.8zM776.6 609.8h0.7v0.7h-0.7zM739.3 585.2h1.1v1.1h-1.1zM783.5 592.7h1.1v1.1h-1.1zM772.9 622.6h0.8v0.8h-0.8zM777.5 599.5h0.9v0.9h-0.9z"/><path fill="#3f7aa6" fill-opacity="0.9" d="M766.5 582.9h0.9v0.9h-0.9zM764.3 627.1h0.9v0.9h-0.9zM762.4 630.7h1.0v1.0h-1.0zM776.3 612.5h0.7v0.7h-0.7zM729.5 606.6h1.1v1.1h-1.1zM738.6 587.8h1.1v1.1h-1.1zM746.3 630.1h0.8v0.8h-0.8zM777.5 608.9h1.0v1.0h-1.0zM781.1 609.7h0.8v0.8h-0.8zM746.0 585.1h1.1v1.1h-1.1zM758.4 630.5h0.7v0.7h-0.7zM783.5 608.1h0.7v0.7h-0.7zM758.7 580.5h1.0v1.0h-1.0zM781.1 610.6h0.8v0.8h-0.8zM775.7 623.2h0.7v0.7h-0.7zM765.0 630.6h1.0v1.0h-1.0zM740.6 582.8h0.8v0.8h-0.8zM732.2 615.6h1.0v1.0h-1.0zM754.3 582.9h0.7v0.7h-0.7zM776.0 614.9h0.8v0.8h-0.8zM731.7 621.3h0.9v0.9h-0.9zM731.8 590.3h0.9v0.9h-0.9zM735.3 624.3h0.8v0.8h-0.8zM753.9 631.8h1.0v1.0h-1.0zM730.1 608.9h1.0v1.0h-1.0zM738.6 588.8h0.9v0.9h-0.9zM756.5 581.7h0.7v0.7h-0.7zM774.7 595.7h0.8v0.8h-0.8zM743.3 627.6h1.1v1.1h-1.1zM741.2 585.3h1.0v1.0h-1.0zM731.3 604.1h1.0v1.0h-1.0zM772.4 621.2h1.0v1.0h-1.0zM746.1 580.8h0.9v0.9h-0.9zM774.0 617.7h1.1v1.1h-1.1zM759.2 630.3h1.0v1.0h-1.0zM777.5 609.7h0.7v0.7h-0.7zM772.2 588.5h1.0v1.0h-1.0zM725.7 608.3h0.9v0.9h-0.9zM775.4 592.7h1.0v1.0h-1.0z"/><path fill="#3f7aa6" fill-opacity="1.0" d="M765.5 627.4h0.8v0.8h-0.8zM736.6 587.0h0.8v0.8h-0.8zM745.2 580.6h1.1v1.1h-1.1zM783.1 609.4h0.7v0.7h-0.7zM730.3 606.9h1.1v1.1h-1.1zM775.2 617.0h1.1v1.1h-1.1zM776.8 609.7h0.9v0.9h-0.9zM761.4 631.3h0.9v0.9h-0.9zM779.9 606.2h0.7v0.7h-0.7zM733.3 591.8h1.0v1.0h-1.0zM742.9 584.6h1.1v1.1h-1.1zM731.8 618.7h1.1v1.1h-1.1zM734.5 626.8h1.1v1.1h-1.1zM758.3 629.3h0.8v0.8h-0.8zM747.6 631.8h0.7v0.7h-0.7zM770.8 622.4h0.8v0.8h-0.8zM778.4 606.9h0.8v0.8h-0.8zM774.8 616.3h1.1v1.1h-1.1zM762.1 584.7h1.0v1.0h-1.0zM726.1 599.1h0.9v0.9h-0.9zM773.6 593.2h1.0v1.0h-1.0zM732.1 619.7h0.8v0.8h-0.8zM749.2 634.1h0.7v0.7h-0.7zM767.7 632.9h0.9v0.9h-0.9zM752.8 629.6h0.8v0.8h-0.8zM734.2 626.9h1.1v1.1h-1.1zM777.5 621.6h1.1v1.1h-1.1zM734.9 590.3h0.7v0.7h-0.7zM741.7 587.4h0.8v0.8h-0.8zM729.4 617.5h1.1v1.1h-1.1zM732.0 614.4h0.7v0.7h-0.7zM750.7 634.1h1.1v1.1h-1.1zM780.7 596.9h1.1v1.1h-1.1zM771.3 587.1h1.0v1.0h-1.0zM753.1 629.5h1.1v1.1h-1.1zM729.9 600.8h0.9v0.9h-0.9zM774.3 618.1h1.1v1.1h-1.1zM757.2 581.0h0.7v0.7h-0.7zM733.4 619.5h0.9v0.9h-0.9zM775.9 624.3h0.9v0.9h-0.9zM775.7 598.1h0.7v0.7h-0.7zM751.1 580.4h0.9v0.9h-0.9zM753.9 633.7h0.7v0.7h-0.7zM738.2 631.7h0.8v0.8h-0.8zM742.5 630.9h0.9v0.9h-0.9z"/><path fill="#6ea3cc" fill-opacity="0.45" d="M782.2 623.3h0.8v0.8h-0.8zM778.9 628.2h0.7v0.7h-0.7zM774.8 631.7h0.8v0.8h-0.8zM773.3 581.9h0.7v0.7h-0.7zM782.7 617.1h0.9v0.9h-0.9zM781.1 591.2h0.8v0.8h-0.8zM782.2 590.6h1.1v1.1h-1.1z"/><path fill="#6ea3cc" fill-opacity="0.6" d="M776.9 621.5h0.7v0.7h-0.7zM776.8 595.7h0.7v0.7h-0.7zM734.0 624.1h1.0v1.0h-1.0zM732.9 587.0h1.1v1.1h-1.1zM737.8 591.6h0.7v0.7h-0.7zM743.5 628.2h0.8v0.8h-0.8zM777.7 601.3h1.0v1.0h-1.0zM742.9 627.6h0.7v0.7h-0.7zM765.7 586.2h1.1v1.1h-1.1zM782.9 590.5h1.1v1.1h-1.1zM730.3 604.7h0.8v0.8h-0.8zM754.3 584.0h1.1v1.1h-1.1zM776.0 616.3h0.7v0.7h-0.7zM770.6 587.9h0.7v0.7h-0.7zM737.5 623.5h1.0v1.0h-1.0zM740.0 629.2h0.8v0.8h-0.8zM767.6 628.0h1.0v1.0h-1.0zM778.3 592.0h1.1v1.1h-1.1zM735.0 592.5h0.7v0.7h-0.7zM730.7 594.4h0.8v0.8h-0.8zM748.9 579.8h0.7v0.7h-0.7zM724.6 602.1h0.9v0.9h-0.9zM769.6 625.3h1.1v1.1h-1.1zM744.1 584.0h1.0v1.0h-1.0zM726.0 601.1h0.7v0.7h-0.7zM768.2 582.9h0.8v0.8h-0.8zM727.9 613.1h1.1v1.1h-1.1zM753.0 583.4h1.1v1.1h-1.1zM748.8 630.6h1.1v1.1h-1.1zM774.1 591.0h0.7v0.7h-0.7zM766.1 584.1h0.9v0.9h-0.9zM775.2 625.8h1.0v1.0h-1.0z"/><path fill="#6ea3cc" fill-opacity="0.75" d="M753.4 579.7h0.7v0.7h-0.7zM771.5 626.3h0.7v0.7h-0.7zM752.1 583.2h0.9v0.9h-0.9zM730.4 603.9h0.8v0.8h-0.8zM732.2 625.1h1.0v1.0h-1.0zM762.7 630.7h1.0v1.0h-1.0zM745.0 585.9h1.1v1.1h-1.1zM723.7 618.6h0.9v0.9h-0.9zM745.4 636.4h0.8v0.8h-0.8zM779.7 615.0h1.1v1.1h-1.1zM731.6 616.8h0.8v0.8h-0.8zM767.0 583.0h1.0v1.0h-1.0zM761.0 632.2h1.1v1.1h-1.1zM733.4 620.3h0.8v0.8h-0.8zM752.2 583.0h1.0v1.0h-1.0zM762.7 628.6h1.1v1.1h-1.1zM775.3 616.4h0.8v0.8h-0.8zM728.6 608.6h1.1v1.1h-1.1zM785.6 609.1h1.1v1.1h-1.1zM770.4 590.3h0.8v0.8h-0.8zM778.7 608.1h1.1v1.1h-1.1zM743.3 630.2h0.8v0.8h-0.8zM748.7 581.1h0.9v0.9h-0.9zM739.6 583.5h1.0v1.0h-1.0zM737.6 588.5h0.9v0.9h-0.9zM774.4 592.6h0.9v0.9h-0.9zM748.8 582.8h0.7v0.7h-0.7zM734.4 584.3h0.9v0.9h-0.9zM776.7 610.2h0.8v0.8h-0.8zM755.3 639.3h0.9v0.9h-0.9zM778.1 604.3h0.9v0.9h-0.9zM780.0 606.7h0.7v0.7h-0.7zM747.0 635.7h1.0v1.0h-1.0zM774.5 596.5h0.7v0.7h-0.7zM776.6 612.7h1.1v1.1h-1.1zM777.1 610.4h0.9v0.9h-0.9zM776.3 601.6h1.1v1.1h-1.1zM770.5 624.9h0.9v0.9h-0.9zM752.7 581.0h0.9v0.9h-0.9zM736.4 589.9h1.1v1.1h-1.1zM730.0 614.6h1.0v1.0h-1.0zM728.2 611.8h0.7v0.7h-0.7zM753.2 631.6h0.8v0.8h-0.8z"/><path fill="#6ea3cc" fill-opacity="0.9" d="M744.2 582.1h0.7v0.7h-0.7zM774.7 594.3h0.9v0.9h-0.9zM752.4 629.5h1.0v1.0h-1.0zM735.6 586.7h0.7v0.7h-0.7zM774.5 596.3h0.7v0.7h-0.7zM782.3 600.3h0.7v0.7h-0.7zM732.7 594.1h0.9v0.9h-0.9zM774.9 617.4h0.8v0.8h-0.8zM734.8 622.4h0.7v0.7h-0.7zM774.8 615.6h1.1v1.1h-1.1zM776.9 605.8h0.8v0.8h-0.8zM776.5 622.8h0.9v0.9h-0.9zM740.5 629.5h0.8v0.8h-0.8zM733.1 620.8h0.8v0.8h-0.8zM754.6 584.3h1.0v1.0h-1.0zM741.2 588.5h0.9v0.9h-0.9zM778.7 610.4h0.9v0.9h-0.9zM770.8 621.9h1.1v1.1h-1.1zM782.8 604.0h0.7v0.7h-0.7zM757.7 635.5h1.0v1.0h-1.0zM731.0 617.4h1.0v1.0h-1.0zM755.5 634.8h0.7v0.7h-0.7zM773.0 621.0h1.0v1.0h-1.0zM729.2 592.8h1.1v1.1h-1.1zM768.4 588.3h1.1v1.1h-1.1zM778.2 618.2h1.0v1.0h-1.0zM768.2 629.8h0.7v0.7h-0.7zM745.9 579.7h0.9v0.9h-0.9zM758.9 584.4h0.9v0.9h-0.9zM741.9 633.6h0.8v0.8h-0.8zM728.2 595.6h1.0v1.0h-1.0zM743.1 632.7h0.7v0.7h-0.7z"/><path fill="#6ea3cc" fill-opacity="1.0" d="M735.3 620.2h1.1v1.1h-1.1zM750.6 630.9h1.0v1.0h-1.0zM765.1 631.1h0.8v0.8h-0.8zM753.6 635.5h0.9v0.9h-0.9zM758.8 584.3h0.8v0.8h-0.8zM747.7 633.0h0.8v0.8h-0.8zM729.3 599.2h1.1v1.1h-1.1zM766.2 629.1h0.7v0.7h-0.7zM761.3 584.4h1.1v1.1h-1.1zM726.4 604.3h0.8v0.8h-0.8zM730.6 615.6h0.9v0.9h-0.9zM758.0 631.1h1.1v1.1h-1.1zM747.2 583.4h1.1v1.1h-1.1zM748.0 632.7h0.7v0.7h-0.7zM748.8 583.2h0.8v0.8h-0.8zM777.2 618.5h1.1v1.1h-1.1zM762.4 629.4h0.8v0.8h-0.8zM756.7 583.8h1.0v1.0h-1.0zM739.0 589.1h0.9v0.9h-0.9zM775.1 596.8h0.9v0.9h-0.9zM731.3 615.3h0.9v0.9h-0.9zM731.6 597.4h0.7v0.7h-0.7zM764.3 580.6h0.9v0.9h-0.9zM745.3 629.6h1.0v1.0h-1.0zM730.4 609.5h0.7v0.7h-0.7zM779.0 618.7h0.8v0.8h-0.8zM742.9 584.0h1.0v1.0h-1.0zM763.7 631.6h1.1v1.1h-1.1zM758.3 580.7h0.7v0.7h-0.7zM744.1 585.4h0.9v0.9h-0.9zM730.3 609.5h0.9v0.9h-0.9zM732.7 595.5h1.0v1.0h-1.0zM771.7 591.0h0.7v0.7h-0.7zM734.8 589.4h0.7v0.7h-0.7z"/><path fill="#9cc4e4" fill-opacity="0.45" d="M745.9 636.2h1.1v1.1h-1.1zM748.3 636.2h0.7v0.7h-0.7zM744.2 579.1h0.8v0.8h-0.8z"/><path fill="#9cc4e4" fill-opacity="0.6" d="M776.9 607.2h0.7v0.7h-0.7zM732.4 614.5h0.9v0.9h-0.9zM772.0 628.0h1.0v1.0h-1.0zM733.6 618.2h0.7v0.7h-0.7zM753.3 581.8h0.9v0.9h-0.9zM749.2 631.2h0.8v0.8h-0.8zM776.5 613.1h0.7v0.7h-0.7zM777.8 605.6h0.9v0.9h-0.9zM725.6 610.2h0.8v0.8h-0.8zM729.5 600.1h1.1v1.1h-1.1zM731.0 609.3h0.8v0.8h-0.8zM754.5 632.3h1.0v1.0h-1.0zM755.5 577.3h0.9v0.9h-0.9zM777.9 600.7h0.7v0.7h-0.7zM733.7 621.3h1.1v1.1h-1.1zM778.4 616.8h0.7v0.7h-0.7zM778.8 614.1h0.8v0.8h-0.8zM733.1 597.1h1.1v1.1h-1.1zM775.8 616.5h1.0v1.0h-1.0zM772.7 627.8h1.1v1.1h-1.1zM754.2 581.5h1.0v1.0h-1.0zM732.7 618.1h1.1v1.1h-1.1zM738.8 579.2h1.1v1.1h-1.1zM775.1 598.3h1.0v1.0h-1.0zM749.6 635.6h0.9v0.9h-0.9zM747.3 631.9h0.9v0.9h-0.9zM726.4 603.0h1.1v1.1h-1.1zM772.5 593.5h0.9v0.9h-0.9zM729.2 586.6h0.7v0.7h-0.7zM772.0 622.4h0.8v0.8h-0.8zM744.1 583.7h1.0v1.0h-1.0zM772.2 585.6h1.0v1.0h-1.0zM733.9 623.8h0.7v0.7h-0.7zM730.0 605.5h1.0v1.0h-1.0zM741.8 637.7h0.8v0.8h-0.8zM755.8 632.8h0.9v0.9h-0.9zM777.2 594.5h1.1v1.1h-1.1zM741.8 583.7h0.9v0.9h-0.9zM780.0 608.5h1.0v1.0h-1.0zM776.3 599.1h1.1v1.1h-1.1zM757.9 637.9h0.7v0.7h-0.7zM742.5 629.8h1.1v1.1h-1.1zM754.4 578.8h0.9v0.9h-0.9zM759.5 632.6h0.7v0.7h-0.7zM777.5 603.2h0.9v0.9h-0.9zM776.7 604.1h1.0v1.0h-1.0zM771.5 621.6h0.8v0.8h-0.8zM751.4 575.7h0.9v0.9h-0.9zM743.6 630.5h0.7v0.7h-0.7zM771.9 621.2h1.0v1.0h-1.0zM779.8 626.4h1.1v1.1h-1.1zM756.2 580.1h0.9v0.9h-0.9z"/><path fill="#9cc4e4" fill-opacity="0.75" d="M730.8 604.6h1.1v1.1h-1.1zM750.9 632.2h1.1v1.1h-1.1zM776.1 611.9h0.8v0.8h-0.8zM757.4 584.6h1.1v1.1h-1.1zM771.4 629.3h0.8v0.8h-0.8zM761.5 577.5h0.7v0.7h-0.7zM731.5 590.1h0.8v0.8h-0.8zM730.8 611.7h1.0v1.0h-1.0zM726.5 609.8h0.7v0.7h-0.7zM732.3 589.5h1.0v1.0h-1.0zM741.6 628.1h1.1v1.1h-1.1zM758.1 581.7h0.7v0.7h-0.7zM751.5 631.0h0.9v0.9h-0.9zM763.8 584.7h0.7v0.7h-0.7zM740.7 588.7h1.1v1.1h-1.1zM736.9 623.2h0.9v0.9h-0.9zM774.8 596.5h0.9v0.9h-0.9zM776.8 619.4h1.1v1.1h-1.1zM732.4 599.2h1.1v1.1h-1.1zM728.3 602.2h0.7v0.7h-0.7zM729.5 603.5h1.1v1.1h-1.1zM777.1 611.9h0.7v0.7h-0.7zM732.6 595.7h0.8v0.8h-0.8zM751.3 630.2h0.9v0.9h-0.9zM758.1 578.7h0.8v0.8h-0.8zM738.4 578.2h0.8v0.8h-0.8zM754.2 639.4h0.8v0.8h-0.8zM777.0 615.5h0.7v0.7h-0.7zM731.1 607.9h1.1v1.1h-1.1zM749.1 631.1h0.7v0.7h-0.7zM729.9 610.0h0.8v0.8h-0.8zM761.2 585.6h0.9v0.9h-0.9zM771.2 627.2h0.7v0.7h-0.7zM749.7 634.5h1.0v1.0h-1.0zM729.1 606.5h1.0v1.0h-1.0zM732.7 594.0h0.8v0.8h-0.8zM775.2 614.7h0.9v0.9h-0.9zM774.4 632.2h1.0v1.0h-1.0zM756.4 581.8h0.9v0.9h-0.9zM750.8 634.0h1.0v1.0h-1.0zM770.9 590.2h1.1v1.1h-1.1zM730.4 602.9h1.1v1.1h-1.1zM755.5 583.8h0.8v0.8h-0.8zM776.4 613.0h1.1v1.1h-1.1zM768.2 582.9h0.8v0.8h-0.8zM772.3 623.1h1.1v1.1h-1.1zM767.4 586.5h0.9v0.9h-0.9zM736.5 623.3h0.7v0.7h-0.7zM752.0 631.1h0.9v0.9h-0.9zM762.6 582.5h1.0v1.0h-1.0zM738.0 623.0h0.8v0.8h-0.8zM738.5 623.9h1.0v1.0h-1.0z"/><path fill="#9cc4e4" fill-opacity="0.9" d="M733.1 618.3h0.9v0.9h-0.9zM741.5 627.0h0.9v0.9h-0.9zM765.4 629.4h0.7v0.7h-0.7zM735.8 585.7h1.0v1.0h-1.0zM737.7 624.3h0.7v0.7h-0.7zM767.4 586.5h1.0v1.0h-1.0zM780.4 602.9h0.7v0.7h-0.7zM778.9 597.4h0.7v0.7h-0.7zM760.4 632.1h0.7v0.7h-0.7zM757.5 630.1h0.7v0.7h-0.7zM738.0 590.5h0.9v0.9h-0.9zM745.1 581.7h1.0v1.0h-1.0zM755.6 632.0h1.0v1.0h-1.0zM774.3 592.2h0.9v0.9h-0.9zM730.2 611.6h0.8v0.8h-0.8zM762.7 583.9h0.7v0.7h-0.7zM728.8 613.8h1.0v1.0h-1.0zM745.5 584.1h0.7v0.7h-0.7zM747.9 635.7h0.7v0.7h-0.7zM741.7 627.6h0.8v0.8h-0.8zM766.6 627.8h0.7v0.7h-0.7zM777.0 605.7h1.0v1.0h-1.0zM748.2 585.0h1.1v1.1h-1.1zM776.3 595.7h0.7v0.7h-0.7zM740.6 632.2h0.7v0.7h-0.7zM755.3 629.5h1.1v1.1h-1.1zM778.2 599.7h0.8v0.8h-0.8zM760.1 584.0h0.9v0.9h-0.9zM777.0 594.4h0.7v0.7h-0.7zM780.0 614.4h0.7v0.7h-0.7zM752.0 584.2h0.7v0.7h-0.7z"/><path fill="#9cc4e4" fill-opacity="1.0" d="M767.3 631.1h0.8v0.8h-0.8zM739.4 588.9h0.8v0.8h-0.8zM729.8 609.9h0.9v0.9h-0.9zM757.1 584.2h1.1v1.1h-1.1zM765.7 587.4h0.8v0.8h-0.8zM735.3 624.7h0.9v0.9h-0.9zM772.3 624.8h1.1v1.1h-1.1zM749.1 630.8h0.8v0.8h-0.8zM765.8 583.0h0.7v0.7h-0.7zM730.2 610.4h0.8v0.8h-0.8zM731.0 600.8h0.9v0.9h-0.9zM764.8 627.2h1.1v1.1h-1.1zM756.3 584.6h1.0v1.0h-1.0zM779.7 613.9h1.0v1.0h-1.0zM779.2 607.5h1.1v1.1h-1.1zM760.2 630.6h0.8v0.8h-0.8zM742.0 586.7h0.8v0.8h-0.8zM777.6 603.8h0.8v0.8h-0.8zM761.5 630.7h1.0v1.0h-1.0zM747.7 630.2h1.0v1.0h-1.0zM764.1 628.4h0.8v0.8h-0.8zM781.6 606.2h0.8v0.8h-0.8zM754.2 584.2h0.7v0.7h-0.7zM736.4 589.2h0.9v0.9h-0.9zM777.8 618.3h0.7v0.7h-0.7zM773.0 589.1h1.0v1.0h-1.0zM738.1 588.6h1.1v1.1h-1.1zM741.1 628.9h0.8v0.8h-0.8zM734.8 623.9h0.8v0.8h-0.8zM779.9 600.5h0.7v0.7h-0.7zM733.9 622.4h0.8v0.8h-0.8zM765.5 629.4h0.7v0.7h-0.7z"/><path fill="#fff" fill-opacity="0.7" d="M756.9 632.7h0.6v0.6h-0.6zM748.9 634.0h0.6v0.6h-0.6zM779.3 606.8h0.6v0.6h-0.6zM755.0 583.5h0.6v0.6h-0.6zM740.9 584.2h0.6v0.6h-0.6zM776.8 597.8h0.6v0.6h-0.6zM729.9 604.6h0.6v0.6h-0.6zM775.7 618.2h0.6v0.6h-0.6zM743.1 628.5h0.6v0.6h-0.6zM776.8 591.8h0.6v0.6h-0.6zM775.0 619.3h0.6v0.6h-0.6zM764.7 628.3h0.6v0.6h-0.6zM729.5 622.4h0.6v0.6h-0.6zM730.1 613.1h0.6v0.6h-0.6zM764.5 584.5h0.6v0.6h-0.6zM768.3 587.6h0.6v0.6h-0.6zM764.2 629.0h0.6v0.6h-0.6zM748.2 630.5h0.6v0.6h-0.6zM737.6 589.5h0.6v0.6h-0.6zM742.6 627.6h0.6v0.6h-0.6zM779.6 602.8h0.6v0.6h-0.6zM767.2 630.0h0.6v0.6h-0.6zM774.2 620.7h0.6v0.6h-0.6zM762.2 579.4h0.6v0.6h-0.6zM774.8 625.7h0.6v0.6h-0.6zM751.1 580.5h0.6v0.6h-0.6zM738.8 625.4h0.6v0.6h-0.6zM751.7 632.6h0.6v0.6h-0.6zM759.1 582.5h0.6v0.6h-0.6zM772.7 622.6h0.6v0.6h-0.6zM746.4 583.3h0.6v0.6h-0.6zM779.8 618.8h0.6v0.6h-0.6zM759.0 633.2h0.6v0.6h-0.6zM770.9 627.5h0.6v0.6h-0.6zM751.5 631.4h0.6v0.6h-0.6zM736.2 622.9h0.6v0.6h-0.6zM777.7 597.7h0.6v0.6h-0.6zM731.8 597.5h0.6v0.6h-0.6zM731.5 614.0h0.6v0.6h-0.6zM742.6 581.2h0.6v0.6h-0.6zM775.6 624.9h0.6v0.6h-0.6zM782.9 615.5h0.6v0.6h-0.6zM760.2 579.7h0.6v0.6h-0.6zM746.5 630.0h0.6v0.6h-0.6zM727.6 599.4h0.6v0.6h-0.6zM765.1 628.4h0.6v0.6h-0.6zM761.4 582.5h0.6v0.6h-0.6zM731.9 617.0h0.6v0.6h-0.6zM773.4 592.5h0.6v0.6h-0.6zM735.6 588.4h0.6v0.6h-0.6zM744.6 632.0h0.6v0.6h-0.6zM738.5 626.6h0.6v0.6h-0.6zM779.2 602.7h0.6v0.6h-0.6zM735.1 627.1h0.6v0.6h-0.6zM746.8 633.7h0.6v0.6h-0.6zM729.4 603.5h0.6v0.6h-0.6zM777.2 598.3h0.6v0.6h-0.6zM754.9 634.0h0.6v0.6h-0.6zM774.9 592.4h0.6v0.6h-0.6zM775.6 596.5h0.6v0.6h-0.6zM730.9 621.5h0.6v0.6h-0.6zM783.1 606.1h0.6v0.6h-0.6zM722.9 613.5h0.6v0.6h-0.6zM733.8 591.5h0.6v0.6h-0.6zM751.5 632.5h0.6v0.6h-0.6zM728.0 604.3h0.6v0.6h-0.6zM756.0 578.6h0.6v0.6h-0.6zM783.0 603.7h0.6v0.6h-0.6zM773.1 622.2h0.6v0.6h-0.6zM753.9 583.7h0.6v0.6h-0.6zM770.9 625.9h0.6v0.6h-0.6zM749.4 582.1h0.6v0.6h-0.6zM736.8 623.3h0.6v0.6h-0.6zM772.5 587.0h0.6v0.6h-0.6zM762.8 630.3h0.6v0.6h-0.6zM747.2 581.7h0.6v0.6h-0.6zM724.4 615.1h0.6v0.6h-0.6zM762.0 631.0h0.6v0.6h-0.6zM781.0 610.7h0.6v0.6h-0.6zM730.0 601.8h0.6v0.6h-0.6zM751.1 581.0h0.6v0.6h-0.6zM744.2 629.5h0.6v0.6h-0.6zM764.2 631.9h0.6v0.6h-0.6zM737.6 626.1h0.6v0.6h-0.6zM759.5 632.6h0.6v0.6h-0.6zM779.9 611.1h0.6v0.6h-0.6zM737.4 626.7h0.6v0.6h-0.6zM779.0 598.6h0.6v0.6h-0.6zM757.7 637.5h0.6v0.6h-0.6zM766.3 584.8h0.6v0.6h-0.6zM738.5 583.8h0.6v0.6h-0.6zM743.4 585.6h0.6v0.6h-0.6zM771.6 591.3h0.6v0.6h-0.6zM740.0 585.9h0.6v0.6h-0.6zM771.0 590.0h0.6v0.6h-0.6zM755.3 580.2h0.6v0.6h-0.6zM777.5 610.5h0.6v0.6h-0.6zM744.0 632.7h0.6v0.6h-0.6zM765.2 584.9h0.6v0.6h-0.6zM731.5 621.3h0.6v0.6h-0.6zM765.3 629.4h0.6v0.6h-0.6zM776.0 620.8h0.6v0.6h-0.6zM747.6 629.7h0.6v0.6h-0.6zM765.4 632.8h0.6v0.6h-0.6zM732.9 617.7h0.6v0.6h-0.6zM757.3 581.5h0.6v0.6h-0.6zM756.0 634.3h0.6v0.6h-0.6zM767.0 627.1h0.6v0.6h-0.6zM728.6 606.9h0.6v0.6h-0.6zM759.9 630.1h0.6v0.6h-0.6zM772.5 585.7h0.6v0.6h-0.6zM728.7 598.0h0.6v0.6h-0.6zM741.1 586.4h0.6v0.6h-0.6zM741.5 632.8h0.6v0.6h-0.6zM772.8 622.0h0.6v0.6h-0.6zM727.2 608.6h0.6v0.6h-0.6zM729.9 602.4h0.6v0.6h-0.6zM748.0 632.8h0.6v0.6h-0.6zM778.1 611.5h0.6v0.6h-0.6zM760.2 632.9h0.6v0.6h-0.6zM780.0 605.0h0.6v0.6h-0.6zM729.2 609.9h0.6v0.6h-0.6zM770.1 627.1h0.6v0.6h-0.6zM756.5 582.3h0.6v0.6h-0.6zM779.6 601.4h0.6v0.6h-0.6zM758.6 631.5h0.6v0.6h-0.6zM776.6 617.9h0.6v0.6h-0.6zM749.8 634.6h0.6v0.6h-0.6zM732.3 619.8h0.6v0.6h-0.6zM757.8 631.1h0.6v0.6h-0.6zM735.1 621.0h0.6v0.6h-0.6zM758.1 634.0h0.6v0.6h-0.6zM780.4 611.7h0.6v0.6h-0.6zM776.9 615.3h0.6v0.6h-0.6zM737.6 587.8h0.6v0.6h-0.6zM767.2 631.1h0.6v0.6h-0.6zM730.8 600.5h0.6v0.6h-0.6zM734.5 593.6h0.6v0.6h-0.6zM743.9 629.0h0.6v0.6h-0.6zM776.9 613.5h0.6v0.6h-0.6zM768.9 587.4h0.6v0.6h-0.6zM733.1 619.1h0.6v0.6h-0.6zM736.5 584.2h0.6v0.6h-0.6zM740.3 627.4h0.6v0.6h-0.6zM754.8 632.5h0.6v0.6h-0.6zM772.6 625.8h0.6v0.6h-0.6zM763.6 629.5h0.6v0.6h-0.6zM729.2 617.7h0.6v0.6h-0.6zM752.9 582.9h0.6v0.6h-0.6zM738.0 588.1h0.6v0.6h-0.6zM759.1 630.2h0.6v0.6h-0.6zM738.0 588.9h0.6v0.6h-0.6zM743.3 585.1h0.6v0.6h-0.6zM755.5 582.4h0.6v0.6h-0.6zM751.2 634.0h0.6v0.6h-0.6zM751.0 584.0h0.6v0.6h-0.6zM776.4 624.3h0.6v0.6h-0.6zM753.8 633.3h0.6v0.6h-0.6zM778.6 616.1h0.6v0.6h-0.6zM759.7 584.0h0.6v0.6h-0.6zM729.5 608.9h0.6v0.6h-0.6zM778.2 621.1h0.6v0.6h-0.6zM741.1 584.6h0.6v0.6h-0.6zM739.0 586.8h0.6v0.6h-0.6zM730.8 620.9h0.6v0.6h-0.6zM740.0 586.2h0.6v0.6h-0.6zM777.6 601.0h0.6v0.6h-0.6zM744.2 585.8h0.6v0.6h-0.6zM775.1 621.3h0.6v0.6h-0.6zM730.9 629.1h0.6v0.6h-0.6z"/></g>
<circle cx="754.45" cy="607.5" r="22.4" fill="#fff"/>
<g font-size="5.6" fill="#1a2744" stroke="#1a2744" stroke-width="0.08" style="font-family:'Liberation Sans',sans-serif">
<text x="736.2" y="600.4" textLength="8.8" lengthAdjust="spacingAndGlyphs">THE</text>
<text x="736.2" y="606.4" textLength="30.4" lengthAdjust="spacingAndGlyphs">MIGRATION</text>
<text x="736.2" y="612.3" textLength="37.3" lengthAdjust="spacingAndGlyphs">OBSERVATORY</text>
</g>
</svg>
</div>
<div id="toolbar"></div>
<span class="t" id="tb_view" style="left:55.80px;top:670.34px;font-size:12px;line-height:17px;color:#666;letter-spacing:0.413px;-webkit-text-stroke:0.5px #666;">View on Tableau Public</span>
<span class="t" id="tb_share" style="left:732.95px;top:670.34px;font-size:12px;line-height:17px;color:#666;letter-spacing:0.394px;-webkit-text-stroke:0.5px #666;">Share</span>
<svg id="tbicons" style="left:0;top:664px" width="800" height="27" viewBox="0 664 800 27" fill="none"><path d="M38.10 677.50H44.90M41.50 674.10V680.90" stroke="#333" stroke-width="1.0"/><path d="M35.05 673.50H39.95M37.50 671.05V675.95" stroke="#333" stroke-width="1.0"/><path d="M35.05 681.50H39.95M37.50 679.05V683.95" stroke="#333" stroke-width="1.0"/><path d="M43.05 673.50H47.95M45.50 671.05V675.95" stroke="#333" stroke-width="1.0"/><path d="M43.05 681.50H47.95M45.50 679.05V683.95" stroke="#333" stroke-width="1.0"/><path d="M39.95 670.40H43.05M41.50 668.85V671.95" stroke="#333" stroke-width="1.1"/><path d="M39.95 684.60H43.05M41.50 683.05V686.15" stroke="#333" stroke-width="1.1"/><path d="M32.85 677.50H35.95M34.40 675.95V679.05" stroke="#333" stroke-width="1.1"/><path d="M47.05 677.50H50.15M48.60 675.95V679.05" stroke="#333" stroke-width="1.1"/><path d="M422.60 672.5H429.00A6.5 6.5 0 0 1 429.00 685.5H421.10" stroke="#b0b0b0" stroke-width="1"/><path d="M420.10 672.5L423.30 669.9V675.1Z" fill="#b0b0b0"/><path d="M473.60 672.5H467.00A6.5 6.5 0 0 0 467.00 685.5H475.10" stroke="#b0b0b0" stroke-width="1"/><path d="M476.10 672.5L472.90 669.9V675.1Z" fill="#b0b0b0"/><path d="M500.5 670.1V674.9" stroke="#b0b0b0" stroke-width="1"/><path d="M504.5 672.5H508.9A6.5 6.5 0 0 1 508.9 685.5H501.1" stroke="#b0b0b0" stroke-width="1"/><path d="M502 672.5L505.2 669.9V675.1Z" fill="#b0b0b0"/><path d="M549.5 674.2H540A3.75 3.75 0 0 0 540 681.7H548A3.75 3.75 0 0 0 551.6 676.9" stroke="#b0b0b0" stroke-width="1"/><path d="M552.2 674.2L549 671.7V676.7Z" fill="#b0b0b0"/><path d="M566.2 676H573.4L569.8 680.8Z" fill="#b0b0b0"/><rect x="595" y="671" width="1" height="13" fill="#c4c4c4"/><path d="M627.6 679.2H623.3A0.6 0.6 0 0 1 622.7 678.6V671.3A0.6 0.6 0 0 1 623.3 670.7H635.8A0.6 0.6 0 0 1 636.4 671.3V678.6A0.6 0.6 0 0 1 635.8 679.2H631.4" stroke="#5c5c5c" stroke-width="1.1"/><path d="M629.5 677.1V684" stroke="#5c5c5c" stroke-width="1.1"/><path d="M626.9 683H632.1L629.5 686.2Z" fill="#5c5c5c"/><path d="M642.2 675.8H649.7L645.95 680.8Z" fill="#555"/><path d="M673.6 676.1V671.6A0.9 0.9 0 0 1 674.5 670.7H679.0M683.0 670.7H687.5A0.9 0.9 0 0 1 688.4 671.6V676.1M688.4 679.9V684.4A0.9 0.9 0 0 1 687.5 685.3H683.0M679.0 685.3H674.5A0.9 0.9 0 0 1 673.6 684.4V679.9" stroke="#5c5c5c" stroke-width="1.1"/><rect x="676.7" y="673.6" width="8.7" height="8.7" rx="0.8" stroke="#5c5c5c" stroke-width="1.1"/><circle cx="713.5" cy="677.7" r="2.25" stroke="#5c5c5c" stroke-width="1.05"/><circle cx="723.2" cy="672.7" r="2.25" stroke="#5c5c5c" stroke-width="1.05"/><circle cx="723.2" cy="682.9" r="2.25" stroke="#5c5c5c" stroke-width="1.05"/><path d="M715.4 676.7L721.3 673.7M715.4 678.7L721.3 681.9" stroke="#5c5c5c" stroke-width="1.05"/></svg>
</body></html>
